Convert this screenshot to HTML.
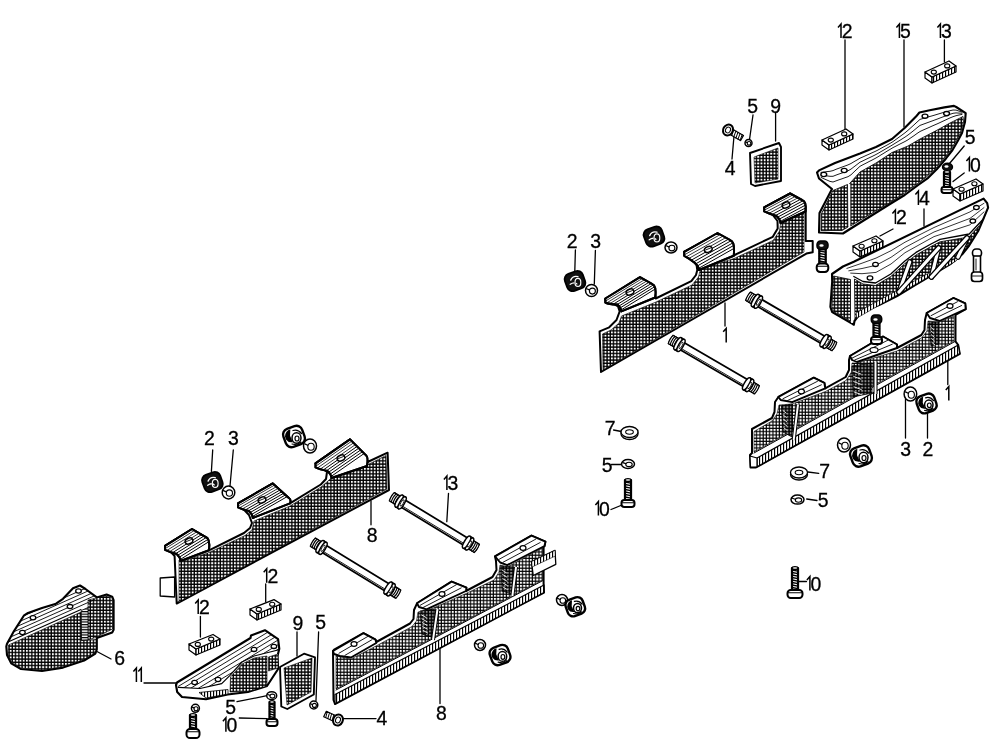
<!DOCTYPE html><html><head><meta charset="utf-8"><style>html,body{margin:0;padding:0;background:#fff;}svg{display:block;filter:grayscale(1);}text{font-family:"Liberation Sans",sans-serif;fill:#000;stroke:#000;stroke-width:0.3px;}</style></head><body>
<svg width="1000" height="749" viewBox="0 0 1000 749">
<defs>
<pattern id="g" width="3.25" height="3.25" patternUnits="userSpaceOnUse"><rect width="3.25" height="3.25" fill="#000"/><rect x="0" y="0" width="1.9" height="1.9" fill="#fff"/></pattern>
<pattern id="v" width="3" height="10" patternUnits="userSpaceOnUse"><rect width="3" height="10" fill="#fff"/><rect x="0" y="0" width="1.15" height="10" fill="#000"/></pattern>
<pattern id="g2" width="3.25" height="3.25" patternUnits="userSpaceOnUse"><rect width="3.25" height="3.25" fill="#000"/><rect x="0" y="0" width="2.1" height="2.1" fill="#fff"/></pattern>
<pattern id="h" width="10" height="2.6" patternUnits="userSpaceOnUse"><rect width="10" height="2.6" fill="#fff"/><rect width="10" height="1.2" fill="#000"/></pattern>
</defs>
<rect width="1000" height="749" fill="#fff"/>
<path d="M841.0,38.0 L841.0,24.0 L838.0,27.4" fill="none" stroke="#000" stroke-width="1.5" stroke-linejoin="miter"/>
<text x="841.7" y="38.0" font-size="19.4">2</text>
<path d="M899.4,38.0 L899.4,24.0 L896.4,27.4" fill="none" stroke="#000" stroke-width="1.5" stroke-linejoin="miter"/>
<text x="900.1" y="38.0" font-size="19.4">5</text>
<path d="M940.4,38.0 L940.4,24.0 L937.4,27.4" fill="none" stroke="#000" stroke-width="1.5" stroke-linejoin="miter"/>
<text x="941.1" y="38.0" font-size="19.4">3</text>
<text x="747.2" y="113.0" font-size="19.4">5</text>
<text x="770.2" y="113.0" font-size="19.4">9</text>
<text x="724.8" y="175.0" font-size="19.4">4</text>
<text x="964.8" y="144.0" font-size="19.4">5</text>
<path d="M969.4,171.5 L969.4,157.5 L966.4,160.9" fill="none" stroke="#000" stroke-width="1.5" stroke-linejoin="miter"/>
<text x="970.1" y="171.5" font-size="19.4">0</text>
<path d="M918.4,205.0 L918.4,191.0 L915.4,194.4" fill="none" stroke="#000" stroke-width="1.5" stroke-linejoin="miter"/>
<text x="919.1" y="205.0" font-size="19.4">4</text>
<path d="M895.4,224.0 L895.4,210.0 L892.4,213.4" fill="none" stroke="#000" stroke-width="1.5" stroke-linejoin="miter"/>
<text x="896.1" y="224.0" font-size="19.4">2</text>
<text x="566.8" y="248.3" font-size="19.4">2</text>
<text x="590.3" y="248.3" font-size="19.4">3</text>
<path d="M726.2,342.4 L726.2,328.4 L723.2,331.8" fill="none" stroke="#000" stroke-width="1.5" stroke-linejoin="miter"/>
<path d="M948.8,400.6 L948.8,386.6 L945.8,390.0" fill="none" stroke="#000" stroke-width="1.5" stroke-linejoin="miter"/>
<text x="900.2" y="456.0" font-size="19.4">3</text>
<text x="922.5" y="456.0" font-size="19.4">2</text>
<text x="604.7" y="434.5" font-size="19.4">7</text>
<text x="601.7" y="472.0" font-size="19.4">5</text>
<path d="M598.4,515.5 L598.4,501.5 L595.4,504.9" fill="none" stroke="#000" stroke-width="1.5" stroke-linejoin="miter"/>
<text x="599.1" y="515.5" font-size="19.4">0</text>
<text x="819.2" y="478.0" font-size="19.4">7</text>
<text x="817.7" y="506.5" font-size="19.4">5</text>
<path d="M809.9,590.5 L809.9,576.5 L806.9,579.9" fill="none" stroke="#000" stroke-width="1.5" stroke-linejoin="miter"/>
<text x="810.6" y="590.5" font-size="19.4">0</text>
<text x="203.9" y="444.7" font-size="19.4">2</text>
<text x="227.9" y="444.7" font-size="19.4">3</text>
<text x="366.8" y="542.0" font-size="19.4">8</text>
<path d="M446.9,490.0 L446.9,476.0 L443.9,479.4" fill="none" stroke="#000" stroke-width="1.5" stroke-linejoin="miter"/>
<text x="447.6" y="490.0" font-size="19.4">3</text>
<path d="M266.7,582.8 L266.7,568.8 L263.7,572.2" fill="none" stroke="#000" stroke-width="1.5" stroke-linejoin="miter"/>
<text x="267.4" y="582.8" font-size="19.4">2</text>
<path d="M198.2,614.0 L198.2,600.0 L195.2,603.4" fill="none" stroke="#000" stroke-width="1.5" stroke-linejoin="miter"/>
<text x="198.9" y="614.0" font-size="19.4">2</text>
<text x="114.2" y="665.0" font-size="19.4">6</text>
<path d="M136.4,682.0 L136.4,668.0 L133.4,671.4" fill="none" stroke="#000" stroke-width="1.5" stroke-linejoin="miter"/>
<path d="M141.3,682.0 L141.3,668.0 L138.3,671.4" fill="none" stroke="#000" stroke-width="1.5" stroke-linejoin="miter"/>
<text x="292.5" y="629.7" font-size="19.4">9</text>
<text x="315.2" y="628.5" font-size="19.4">5</text>
<text x="225.2" y="713.7" font-size="19.4">5</text>
<path d="M225.9,731.8 L225.9,717.8 L222.9,721.2" fill="none" stroke="#000" stroke-width="1.5" stroke-linejoin="miter"/>
<text x="226.6" y="731.8" font-size="19.4">0</text>
<text x="376.6" y="724.6" font-size="19.4">4</text>
<text x="436.0" y="720.0" font-size="19.4">8</text>
<line x1="845" y1="40" x2="845" y2="130" stroke="#000" stroke-width="1.3" stroke-linecap="round"/>
<line x1="904" y1="40" x2="904" y2="127" stroke="#000" stroke-width="1.3" stroke-linecap="round"/>
<line x1="944.4" y1="40" x2="944.4" y2="62" stroke="#000" stroke-width="1.3" stroke-linecap="round"/>
<line x1="753" y1="115" x2="749.6" y2="139" stroke="#000" stroke-width="1.3" stroke-linecap="round"/>
<line x1="775.6" y1="113" x2="775.6" y2="141" stroke="#000" stroke-width="1.3" stroke-linecap="round"/>
<line x1="734" y1="136" x2="732" y2="159" stroke="#000" stroke-width="1.3" stroke-linecap="round"/>
<line x1="924" y1="209" x2="924" y2="226" stroke="#000" stroke-width="1.3" stroke-linecap="round"/>
<line x1="893" y1="229" x2="880" y2="236" stroke="#000" stroke-width="1.3" stroke-linecap="round"/>
<line x1="575.4" y1="250" x2="574.8" y2="271.3" stroke="#000" stroke-width="1.3" stroke-linecap="round"/>
<line x1="595.4" y1="250.4" x2="594.3" y2="284" stroke="#000" stroke-width="1.3" stroke-linecap="round"/>
<line x1="725" y1="303" x2="725" y2="326" stroke="#000" stroke-width="1.3" stroke-linecap="round"/>
<line x1="947.8" y1="360.5" x2="947.8" y2="384.6" stroke="#000" stroke-width="1.3" stroke-linecap="round"/>
<line x1="613.6" y1="430" x2="621.4" y2="431.5" stroke="#000" stroke-width="1.3" stroke-linecap="round"/>
<line x1="611" y1="509.5" x2="622" y2="505" stroke="#000" stroke-width="1.3" stroke-linecap="round"/>
<line x1="212.7" y1="450" x2="211.4" y2="471.4" stroke="#000" stroke-width="1.3" stroke-linecap="round"/>
<line x1="233.3" y1="450" x2="230" y2="486" stroke="#000" stroke-width="1.3" stroke-linecap="round"/>
<line x1="371" y1="500.8" x2="371" y2="524.8" stroke="#000" stroke-width="1.3" stroke-linecap="round"/>
<line x1="448.5" y1="493.4" x2="446.8" y2="521.7" stroke="#000" stroke-width="1.3" stroke-linecap="round"/>
<line x1="265.7" y1="584" x2="265.7" y2="602" stroke="#000" stroke-width="1.3" stroke-linecap="round"/>
<line x1="200.4" y1="616.5" x2="200.4" y2="637" stroke="#000" stroke-width="1.3" stroke-linecap="round"/>
<line x1="96" y1="651" x2="111" y2="659" stroke="#000" stroke-width="1.3" stroke-linecap="round"/>
<line x1="144" y1="683" x2="176" y2="683" stroke="#000" stroke-width="1.3" stroke-linecap="round"/>
<line x1="297" y1="632" x2="297" y2="656" stroke="#000" stroke-width="1.3" stroke-linecap="round"/>
<line x1="318.6" y1="632" x2="316" y2="700.5" stroke="#000" stroke-width="1.3" stroke-linecap="round"/>
<line x1="237" y1="701.7" x2="267" y2="695.7" stroke="#000" stroke-width="1.3" stroke-linecap="round"/>
<line x1="239.3" y1="718" x2="267" y2="718.6" stroke="#000" stroke-width="1.3" stroke-linecap="round"/>
<line x1="342.6" y1="718.6" x2="376" y2="718.6" stroke="#000" stroke-width="1.3" stroke-linecap="round"/>
<line x1="440" y1="648.6" x2="440" y2="703.6" stroke="#000" stroke-width="1.3" stroke-linecap="round"/>
<line x1="964.2" y1="146" x2="949.5" y2="163.5" stroke="#000" stroke-width="1.3" stroke-linecap="round"/>
<line x1="964.2" y1="173" x2="953" y2="181.5" stroke="#000" stroke-width="1.3" stroke-linecap="round"/>
<line x1="808" y1="472" x2="818.7" y2="473.3" stroke="#000" stroke-width="1.3" stroke-linecap="round"/>
<line x1="806.7" y1="499" x2="817" y2="500.5" stroke="#000" stroke-width="1.3" stroke-linecap="round"/>
<line x1="611.5" y1="464.5" x2="621" y2="464.5" stroke="#000" stroke-width="1.3" stroke-linecap="round"/>
<line x1="797" y1="581.5" x2="806.5" y2="581.5" stroke="#000" stroke-width="1.3" stroke-linecap="round"/>
<polygon points="601.0,372.0 599.6,331.3 609.2,327.3 616.5,320.0 619.7,311.3 618.0,306.5 612.0,303.0 605.2,299.3 639.7,277.6 655.0,289.7 655.7,298.5 691.3,281.2 696.0,275.0 697.3,270.0 696.5,264.7 692.0,260.0 684.3,251.6 717.3,234.3 733.0,243.8 733.6,255.5 772.8,236.8 777.7,228.4 777.5,221.0 772.0,214.0 764.2,207.4 790.2,193.5 804.1,203.0 805.7,210.0 805.7,241.0 812.7,241.0 812.7,252.2 806.4,253.6" fill="#fff" stroke="#000" stroke-width="2.0" stroke-linejoin="round" />
<polygon points="603.0,370.0 602.5,334.0 611.0,330.0 619.0,323.0 621.5,316.0 656.0,302.0 692.0,285.0 698.5,277.0 700.5,269.0 734.0,258.5 773.0,240.5 779.5,231.0 780.5,224.0 804.0,213.0 804.0,252.0" fill="url(#g)" stroke="#000" stroke-width="0.6" stroke-linejoin="round" />
<path d="M605.3,298.5 L640,277.2 L652.4,284.2 Q656.7,285.7 655.2,297.5 L621.4,311.4 Q620.9,307.4 617.4,304.4 Q609.3,304.5 605.3,302.5 Z" fill="#fff" stroke="#000" stroke-width="2" stroke-linejoin="round"/>
<clipPath id="c1"><path d="M605.3,298.5 L640,277.2 L652.4,284.2 Q656.7,285.7 655.2,297.5 L621.4,311.4 Q620.9,307.4 617.4,304.4 Q609.3,304.5 605.3,302.5 Z"/></clipPath>
<g clip-path="url(#c1)">
<line x1="598.0" y1="305.7" x2="675.3" y2="258.2" stroke="#000" stroke-width="0.8"/>
<line x1="599.1" y1="307.6" x2="676.5" y2="260.1" stroke="#000" stroke-width="0.8"/>
<line x1="600.3" y1="309.5" x2="677.6" y2="262.0" stroke="#000" stroke-width="0.8"/>
<line x1="601.5" y1="311.4" x2="678.8" y2="264.0" stroke="#000" stroke-width="1.0"/>
<line x1="602.7" y1="313.4" x2="680.0" y2="265.9" stroke="#000" stroke-width="1.0"/>
<line x1="603.9" y1="315.3" x2="681.2" y2="267.8" stroke="#000" stroke-width="1.0"/>
<line x1="605.0" y1="317.2" x2="682.4" y2="269.7" stroke="#000" stroke-width="1.0"/>
<line x1="606.2" y1="319.1" x2="683.5" y2="271.7" stroke="#000" stroke-width="1.0"/>
</g>
<path d="M605.3,298.5 L640,277.2 L652.4,284.2 Q656.7,285.7 655.2,297.5 L621.4,311.4 Q620.9,307.4 617.4,304.4 Q609.3,304.5 605.3,302.5 Z" fill="none" stroke="#000" stroke-width="2" stroke-linejoin="round"/>
<ellipse cx="630" cy="292" rx="4" ry="2.8" fill="#fff" stroke="#000" stroke-width="1.5" transform="rotate(-25 630 292)"/>
<line x1="627.5" y1="292.5" x2="632.5" y2="290.5" stroke="#000" stroke-width="0.9" stroke-linecap="round"/>
<path d="M684.2,251.8 L717.5,233 L730.3,240.2 Q735.2,241.7 733.7,255.8 L699,270 Q698.5,266.0 695.0,263.0 Q688.2,257.8 684.2,255.8 Z" fill="#fff" stroke="#000" stroke-width="2" stroke-linejoin="round"/>
<clipPath id="c2"><path d="M684.2,251.8 L717.5,233 L730.3,240.2 Q735.2,241.7 733.7,255.8 L699,270 Q698.5,266.0 695.0,263.0 Q688.2,257.8 684.2,255.8 Z"/></clipPath>
<g clip-path="url(#c2)">
<line x1="676.8" y1="259.1" x2="753.7" y2="215.7" stroke="#000" stroke-width="0.8"/>
<line x1="678.1" y1="261.4" x2="755.0" y2="218.0" stroke="#000" stroke-width="0.8"/>
<line x1="679.5" y1="263.7" x2="756.3" y2="220.4" stroke="#000" stroke-width="0.8"/>
<line x1="680.8" y1="266.1" x2="757.6" y2="222.7" stroke="#000" stroke-width="1.0"/>
<line x1="682.1" y1="268.4" x2="758.9" y2="225.0" stroke="#000" stroke-width="1.0"/>
<line x1="683.4" y1="270.8" x2="760.3" y2="227.4" stroke="#000" stroke-width="1.0"/>
<line x1="684.7" y1="273.1" x2="761.6" y2="229.7" stroke="#000" stroke-width="1.0"/>
<line x1="686.1" y1="275.4" x2="762.9" y2="232.1" stroke="#000" stroke-width="1.0"/>
</g>
<path d="M684.2,251.8 L717.5,233 L730.3,240.2 Q735.2,241.7 733.7,255.8 L699,270 Q698.5,266.0 695.0,263.0 Q688.2,257.8 684.2,255.8 Z" fill="none" stroke="#000" stroke-width="2" stroke-linejoin="round"/>
<ellipse cx="708.3" cy="249.4" rx="4" ry="2.8" fill="#fff" stroke="#000" stroke-width="1.5" transform="rotate(-25 708.3 249.4)"/>
<line x1="705.8" y1="249.9" x2="710.8" y2="247.9" stroke="#000" stroke-width="0.9" stroke-linecap="round"/>
<path d="M764.2,207.4 L790.2,193.5 L802,200 Q806.9,201.5 805.4,211.5 L780.5,223 Q780.0,219.0 776.5,216.0 Q768.2,213.4 764.2,211.4 Z" fill="#fff" stroke="#000" stroke-width="2" stroke-linejoin="round"/>
<clipPath id="c3"><path d="M764.2,207.4 L790.2,193.5 L802,200 Q806.9,201.5 805.4,211.5 L780.5,223 Q780.0,219.0 776.5,216.0 Q768.2,213.4 764.2,211.4 Z"/></clipPath>
<g clip-path="url(#c3)">
<line x1="756.6" y1="214.3" x2="826.7" y2="176.8" stroke="#000" stroke-width="0.8"/>
<line x1="757.7" y1="216.5" x2="827.8" y2="179.0" stroke="#000" stroke-width="0.8"/>
<line x1="758.9" y1="218.7" x2="829.0" y2="181.2" stroke="#000" stroke-width="0.8"/>
<line x1="760.1" y1="220.9" x2="830.2" y2="183.4" stroke="#000" stroke-width="1.0"/>
<line x1="761.3" y1="223.1" x2="831.4" y2="185.6" stroke="#000" stroke-width="1.0"/>
<line x1="762.4" y1="225.3" x2="832.5" y2="187.8" stroke="#000" stroke-width="1.0"/>
<line x1="763.6" y1="227.5" x2="833.7" y2="190.0" stroke="#000" stroke-width="1.0"/>
<line x1="764.8" y1="229.7" x2="834.9" y2="192.2" stroke="#000" stroke-width="1.0"/>
</g>
<path d="M764.2,207.4 L790.2,193.5 L802,200 Q806.9,201.5 805.4,211.5 L780.5,223 Q780.0,219.0 776.5,216.0 Q768.2,213.4 764.2,211.4 Z" fill="none" stroke="#000" stroke-width="2" stroke-linejoin="round"/>
<ellipse cx="786" cy="205" rx="4" ry="2.8" fill="#fff" stroke="#000" stroke-width="1.5" transform="rotate(-25 786 205)"/>
<line x1="783.5" y1="205.5" x2="788.5" y2="203.5" stroke="#000" stroke-width="0.9" stroke-linecap="round"/>
<polygon points="817.0,172.5 819.0,170.4 835.0,163.0 860.0,153.5 876.0,147.0 892.0,139.0 904.9,127.8 916.0,116.6 919.4,112.5 929.7,110.3 944.4,107.4 954.0,105.9 956.2,107.0 965.7,113.2 965.0,122.0 962.0,133.0 957.6,141.2 952.5,150.0 945.8,158.7 937.0,169.0 928.2,177.8 917.9,185.2 904.7,195.0 890.0,204.0 850.0,229.0 843.0,233.5 819.0,232.5 819.5,213.0 832.0,189.0 819.0,178.5" fill="#fff" stroke="#000" stroke-width="2.12" stroke-linejoin="round" />
<polygon points="849.6,183.5 860.0,172.0 876.0,163.0 892.0,152.5 908.0,146.0 920.0,139.0 937.0,130.2 950.0,123.0 963.0,116.5 963.5,122.0 960.5,133.0 956.0,141.0 951.0,149.5 944.5,158.0 936.0,168.0 927.0,176.5 917.0,184.0 904.0,193.5 890.0,202.5 850.5,226.0" fill="url(#g)" stroke="#000" stroke-width="0.8" stroke-linejoin="round" />
<polygon points="833.0,190.5 847.5,184.5 848.0,227.0 842.0,230.5 821.0,230.5 821.5,213.5" fill="url(#g)" stroke="#000" stroke-width="0.8" stroke-linejoin="round" />
<line x1="849.5" y1="184" x2="849.5" y2="226" stroke="#fff" stroke-width="1.6"/>
<polyline points="821.0,172.4 824.0,172.0 827.0,171.6 830.0,171.3 833.0,170.6 836.0,169.3 839.0,168.2 842.0,167.1 845.0,166.0 848.0,164.9 851.0,163.5 854.0,161.7 857.0,160.0 860.0,158.2 863.0,156.9 866.0,155.5 869.0,154.2 872.0,152.8 875.0,151.5 878.0,150.0 881.0,148.3 884.0,146.7 887.0,145.1 890.0,143.4 893.0,141.6 896.0,139.4 899.0,137.2 902.0,135.0 905.0,132.8 908.0,130.3 911.0,127.6 914.0,124.9 917.0,122.1 920.0,119.4 923.0,118.5 926.0,117.6 929.0,116.7 932.0,115.9 935.0,115.0 938.0,114.1 941.0,113.2 944.0,112.3 947.0,111.5 950.0,110.7 953.0,110.0 956.0,110.1 959.0,111.1 962.0,112.1" fill="none" stroke="#000" stroke-width="0.9" stroke-linejoin="round" stroke-linecap="round"/>
<polyline points="821.0,174.9 824.0,175.4 827.0,175.9 830.0,176.3 833.0,176.3 836.0,175.1 839.0,174.0 842.0,173.0 845.0,171.9 848.0,170.8 851.0,169.1 854.0,166.8 857.0,164.5 860.0,162.2 863.0,160.8 866.0,159.3 869.0,157.9 872.0,156.5 875.0,155.0 878.0,153.4 881.0,151.6 884.0,149.9 887.0,148.1 890.0,146.4 893.0,144.6 896.0,142.7 899.0,140.9 902.0,139.0 905.0,137.1 908.0,135.0 911.0,132.7 914.0,130.3 917.0,127.8 920.0,125.4 923.0,124.3 926.0,123.2 929.0,122.1 932.0,121.0 935.0,119.9 938.0,118.8 941.0,117.6 944.0,116.5 947.0,115.4 950.0,114.3 953.0,113.3 956.0,112.9 959.0,113.1 962.0,113.2" fill="none" stroke="#000" stroke-width="0.9" stroke-linejoin="round" stroke-linecap="round"/>
<polyline points="821.0,177.4 824.0,178.8 827.0,180.1 830.0,181.4 833.0,182.0 836.0,180.9 839.0,179.8 842.0,178.8 845.0,177.7 848.0,176.7 851.0,174.8 854.0,171.9 857.0,169.1 860.0,166.3 863.0,164.7 866.0,163.2 869.0,161.6 872.0,160.1 875.0,158.5 878.0,156.8 881.0,154.9 884.0,153.1 887.0,151.2 890.0,149.4 893.0,147.6 896.0,146.1 899.0,144.5 902.0,143.0 905.0,141.5 908.0,139.8 911.0,137.7 914.0,135.7 917.0,133.5 920.0,131.5 923.0,130.1 926.0,128.8 929.0,127.5 932.0,126.1 935.0,124.8 938.0,123.5 941.0,122.1 944.0,120.7 947.0,119.3 950.0,117.9 953.0,116.7 956.0,115.7 959.0,115.0 962.0,114.4" fill="none" stroke="#000" stroke-width="0.9" stroke-linejoin="round" stroke-linecap="round"/>
<ellipse cx="823.8" cy="174.5" rx="2.9" ry="2.1" fill="#fff" stroke="#000" stroke-width="1.4" transform="rotate(0 823.8 174.5)"/>
<ellipse cx="844.2" cy="170.5" rx="2.9" ry="2.1" fill="#fff" stroke="#000" stroke-width="1.4" transform="rotate(0 844.2 170.5)"/>
<ellipse cx="925" cy="116.2" rx="2.9" ry="2.1" fill="#fff" stroke="#000" stroke-width="1.4" transform="rotate(0 925 116.2)"/>
<ellipse cx="946.6" cy="113.6" rx="2.9" ry="2.1" fill="#fff" stroke="#000" stroke-width="1.4" transform="rotate(0 946.6 113.6)"/>
<polygon points="832.0,274.0 843.0,266.5 853.8,261.7 983.6,198.6 987.2,203.1 988.1,207.6 983.6,218.4 978.2,231.0 969.2,245.5 962.0,254.5 951.2,263.5 933.2,274.3 915.1,285.1 897.1,296.0 879.1,305.0 861.0,312.2 854.5,321.0 853.8,324.8 852.0,323.5 832.2,312.2 830.4,306.8 832.2,281.5" fill="#fff" stroke="#000" stroke-width="2.12" stroke-linejoin="round" />
<polygon points="854.5,279.0 863.0,284.0 875.5,285.5 890.8,276.5 904.9,263.5 916.0,255.0 931.0,246.5 940.0,241.8 969.0,237.0 982.0,222.5 977.5,231.0 968.5,245.0 961.5,254.0 950.5,263.0 932.5,273.5 914.5,284.5 896.5,295.5 878.5,304.5 860.5,311.5 855.0,319.0" fill="url(#g)" stroke="#000" stroke-width="0.8" stroke-linejoin="round" />
<polygon points="833.5,276.0 850.5,279.5 850.5,321.0 833.5,311.5 832.0,306.5" fill="url(#g)" stroke="#000" stroke-width="0.8" stroke-linejoin="round" />
<polyline points="853.8,276.5 863.0,281.5 875.5,283.0 890.8,274.0 904.9,261.0 916.0,252.4 931.0,244.0 940.0,239.3 969.2,234.0 983.6,218.8" fill="none" stroke="#000" stroke-width="1.3" stroke-linejoin="round" stroke-linecap="round"/>
<line x1="852" y1="279" x2="852" y2="323" stroke="#fff" stroke-width="1.8"/>
<polygon points="856.0,313.0 960.0,256.0 956.0,261.0 857.0,318.0" fill="url(#v)" stroke="#000" stroke-width="0.6" stroke-linejoin="round" />
<line x1="909.7" y1="262" x2="899" y2="292" stroke="#000" stroke-width="5.6" stroke-linecap="round"/>
<line x1="909.7" y1="262" x2="899" y2="292" stroke="#fff" stroke-width="3.2" stroke-linecap="round"/>
<line x1="938.6" y1="248" x2="931.4" y2="277" stroke="#000" stroke-width="5.6" stroke-linecap="round"/>
<line x1="938.6" y1="248" x2="931.4" y2="277" stroke="#fff" stroke-width="3.2" stroke-linecap="round"/>
<line x1="967" y1="238" x2="958" y2="257" stroke="#000" stroke-width="5.6" stroke-linecap="round"/>
<line x1="967" y1="238" x2="958" y2="257" stroke="#fff" stroke-width="3.2" stroke-linecap="round"/>
<line x1="899" y1="292" x2="938.6" y2="248" stroke="#000" stroke-width="5.6" stroke-linecap="round"/>
<line x1="899" y1="292" x2="938.6" y2="248" stroke="#fff" stroke-width="3.2" stroke-linecap="round"/>
<line x1="931.4" y1="277" x2="967" y2="238" stroke="#000" stroke-width="5.6" stroke-linecap="round"/>
<line x1="931.4" y1="277" x2="967" y2="238" stroke="#fff" stroke-width="3.2" stroke-linecap="round"/>
<polyline points="846.9,268.4 862.0,263.2 876.0,258.1 891.0,250.7 905.0,242.2 934.0,227.5 970.0,211.9 984.0,203.3" fill="none" stroke="#000" stroke-width="0.8" stroke-linejoin="round" stroke-linecap="round"/>
<polyline points="848.8,270.8 862.0,268.5 876.0,265.3 891.0,257.3 905.0,247.5 934.0,232.0 970.0,218.4 984.0,207.6" fill="none" stroke="#000" stroke-width="0.8" stroke-linejoin="round" stroke-linecap="round"/>
<polyline points="850.7,273.1 862.0,273.7 876.0,272.4 891.0,264.0 905.0,252.7 934.0,236.6 970.0,224.8 984.0,211.9" fill="none" stroke="#000" stroke-width="0.8" stroke-linejoin="round" stroke-linecap="round"/>
<ellipse cx="875.5" cy="264.4" rx="2.8" ry="2.1" fill="#fff" stroke="#000" stroke-width="1.3" transform="rotate(0 875.5 264.4)"/>
<ellipse cx="870" cy="278" rx="2.8" ry="2.1" fill="#fff" stroke="#000" stroke-width="1.3" transform="rotate(0 870 278)"/>
<ellipse cx="976.4" cy="207.6" rx="2.8" ry="2.1" fill="#fff" stroke="#000" stroke-width="1.3" transform="rotate(0 976.4 207.6)"/>
<ellipse cx="972.8" cy="221.1" rx="2.8" ry="2.1" fill="#fff" stroke="#000" stroke-width="1.3" transform="rotate(0 972.8 221.1)"/>
<polygon points="7.0,643.7 14.0,631.1 23.8,615.7 28.0,612.9 42.0,608.0 56.0,603.7 63.0,598.8 73.0,588.3 80.0,585.5 85.5,589.0 96.8,597.4 106.6,594.6 112.2,596.7 113.6,600.2 113.6,629.7 112.2,632.5 96.8,638.1 96.8,649.3 95.4,653.5 84.1,660.5 63.0,667.6 42.0,671.0 21.0,669.0 11.2,663.3 7.0,655.0 6.3,646.5" fill="#fff" stroke="#000" stroke-width="2.12" stroke-linejoin="round" />
<polygon points="8.5,645.0 81.0,612.0 81.5,640.5 96.0,639.5 96.0,649.0 94.5,653.0 84.0,659.5 63.0,666.5 42.0,670.0 21.0,668.0 12.0,662.5 8.0,655.0" fill="url(#g)" stroke="#000" stroke-width="0.6" stroke-linejoin="round" />
<polygon points="88.0,600.0 98.0,597.5 107.0,596.0 112.5,598.5 112.5,629.0 97.0,637.0 88.0,640.0" fill="url(#g)" stroke="#000" stroke-width="0.6" stroke-linejoin="round" />
<polygon points="81.3,610.5 88.0,607.5 88.0,640.0 81.5,640.5" fill="url(#h)" stroke="#000" stroke-width="0.8" stroke-linejoin="round" />
<line x1="8" y1="642" x2="81" y2="609.5" stroke="#000" stroke-width="1.1" stroke-linecap="round"/>
<clipPath id="c4"><polygon points="7.0,643.7 14.0,631.1 23.8,615.7 28.0,612.9 42.0,608.0 56.0,603.7 63.0,598.8 73.0,588.3 80.0,585.5 85.5,589.0 96.8,597.4 88.0,607.5 81.0,609.5 8.0,642.0"/></clipPath>
<g clip-path="url(#c4)">
<line x1="-30.0" y1="655.1" x2="116.1" y2="590.0" stroke="#000" stroke-width="0.9"/>
<line x1="-31.4" y1="651.9" x2="114.7" y2="586.8" stroke="#000" stroke-width="0.9"/>
<line x1="-32.8" y1="648.7" x2="113.3" y2="583.6" stroke="#000" stroke-width="0.9"/>
<line x1="-34.2" y1="645.5" x2="111.8" y2="580.4" stroke="#000" stroke-width="0.9"/>
<line x1="-35.7" y1="642.3" x2="110.4" y2="577.2" stroke="#000" stroke-width="0.9"/>
</g>
<ellipse cx="22.4" cy="632.5" rx="2.8" ry="2.1" fill="#fff" stroke="#000" stroke-width="1.3" transform="rotate(0 22.4 632.5)"/>
<ellipse cx="33" cy="617.8" rx="2.8" ry="2.1" fill="#fff" stroke="#000" stroke-width="1.3" transform="rotate(0 33 617.8)"/>
<ellipse cx="70" cy="606.6" rx="2.8" ry="2.1" fill="#fff" stroke="#000" stroke-width="1.3" transform="rotate(0 70 606.6)"/>
<ellipse cx="78.5" cy="591" rx="2.8" ry="2.1" fill="#fff" stroke="#000" stroke-width="1.3" transform="rotate(0 78.5 591)"/>
<polygon points="177.0,682.5 250.5,638.0 251.0,635.5 264.9,630.2 278.1,639.2 279.3,648.8 277.5,656.0 278.1,669.0 267.0,686.0 248.0,692.0 227.7,694.5 206.0,699.3 182.0,697.0 177.2,692.0 176.0,685.0" fill="#fff" stroke="#000" stroke-width="2.12" stroke-linejoin="round" />
<polygon points="230.5,677.0 242.0,664.0 254.0,658.0 267.0,656.0 267.0,686.0 248.0,691.5 230.0,692.0" fill="url(#g)" stroke="#000" stroke-width="0.6" stroke-linejoin="round" />
<polygon points="268.5,657.0 278.0,654.0 278.0,668.0 268.5,671.0" fill="url(#g)" stroke="#000" stroke-width="0.6" stroke-linejoin="round" />
<polyline points="178.4,687.3 200.0,688.5 221.7,683.7 230.0,675.3 242.0,662.0 254.0,656.0 278.0,650.0" fill="none" stroke="#000" stroke-width="1.2" stroke-linejoin="round" stroke-linecap="round"/>
<polygon points="199.0,692.5 228.0,689.5 228.0,694.0 206.0,698.0" fill="url(#v)" stroke="#000" stroke-width="0.8" stroke-linejoin="round" />
<clipPath id="c5"><polygon points="177.0,682.5 250.5,638.0 251.0,635.5 264.9,630.2 278.1,639.2 279.3,648.8 278.0,650.0 254.0,656.0 242.0,662.0 230.0,675.3 221.7,683.7 200.0,688.5 178.4,687.3"/></clipPath>
<g clip-path="url(#c5)">
<line x1="144.9" y1="706.6" x2="286.8" y2="620.7" stroke="#000" stroke-width="0.9"/>
<line x1="146.9" y1="710.1" x2="288.9" y2="624.1" stroke="#000" stroke-width="0.9"/>
<line x1="149.0" y1="713.5" x2="290.9" y2="627.5" stroke="#000" stroke-width="0.9"/>
<line x1="151.1" y1="716.9" x2="293.0" y2="631.0" stroke="#000" stroke-width="0.9"/>
<line x1="153.1" y1="720.3" x2="295.1" y2="634.4" stroke="#000" stroke-width="0.9"/>
<line x1="155.2" y1="723.7" x2="297.1" y2="637.8" stroke="#000" stroke-width="0.9"/>
</g>
<ellipse cx="194.6" cy="682.5" rx="2.8" ry="2.1" fill="#fff" stroke="#000" stroke-width="1.3" transform="rotate(0 194.6 682.5)"/>
<ellipse cx="218" cy="679.5" rx="2.8" ry="2.1" fill="#fff" stroke="#000" stroke-width="1.3" transform="rotate(0 218 679.5)"/>
<ellipse cx="254" cy="649.4" rx="2.8" ry="2.1" fill="#fff" stroke="#000" stroke-width="1.3" transform="rotate(0 254 649.4)"/>
<ellipse cx="273.9" cy="646.4" rx="2.8" ry="2.1" fill="#fff" stroke="#000" stroke-width="1.3" transform="rotate(0 273.9 646.4)"/>
<polygon points="176.7,603.5 174.6,556.0 170.0,551.0 165.0,545.8 192.0,529.0 205.3,536.8 209.0,550.3 244.0,533.0 250.0,528.0 252.0,523.0 249.0,515.0 238.0,503.4 272.8,483.4 288.8,498.0 290.0,503.4 320.8,484.5 326.0,479.0 327.0,472.0 322.0,467.0 315.5,463.4 350.0,439.4 366.0,455.4 367.6,462.0 387.6,452.7 389.0,490.0" fill="#fff" stroke="#000" stroke-width="2.0" stroke-linejoin="round" />
<polygon points="179.0,602.0 179.0,560.0 181.0,562.0 209.0,552.5 245.0,535.5 252.0,530.0 254.0,521.0 290.0,506.0 321.0,487.0 328.0,481.0 331.0,478.0 367.0,465.0 386.0,455.5 387.0,489.0" fill="url(#g)" stroke="#000" stroke-width="0.6" stroke-linejoin="round" />
<polygon points="160.2,578.0 174.6,577.0 174.6,597.0 160.2,596.0" fill="#fff" stroke="#000" stroke-width="1.3" stroke-linejoin="round" />
<path d="M165,545.8 L192,529 L205.3,536.8 Q210.5,538.3 209,550.3 L180.6,561 Q180.1,557.0 176.6,554.0 Q169.0,551.8 165,549.8 Z" fill="#fff" stroke="#000" stroke-width="2" stroke-linejoin="round"/>
<clipPath id="c6"><path d="M165,545.8 L192,529 L205.3,536.8 Q210.5,538.3 209,550.3 L180.6,561 Q180.1,557.0 176.6,554.0 Q169.0,551.8 165,549.8 Z"/></clipPath>
<g clip-path="url(#c6)">
<line x1="157.8" y1="553.2" x2="227.3" y2="510.0" stroke="#000" stroke-width="0.8"/>
<line x1="159.1" y1="555.3" x2="228.6" y2="512.0" stroke="#000" stroke-width="0.8"/>
<line x1="160.4" y1="557.3" x2="229.9" y2="514.1" stroke="#000" stroke-width="0.8"/>
<line x1="161.7" y1="559.4" x2="231.2" y2="516.2" stroke="#000" stroke-width="1.0"/>
<line x1="163.0" y1="561.5" x2="232.5" y2="518.3" stroke="#000" stroke-width="1.0"/>
<line x1="164.3" y1="563.6" x2="233.8" y2="520.4" stroke="#000" stroke-width="1.0"/>
<line x1="165.6" y1="565.7" x2="235.1" y2="522.5" stroke="#000" stroke-width="1.0"/>
<line x1="166.9" y1="567.8" x2="236.4" y2="524.6" stroke="#000" stroke-width="1.0"/>
</g>
<path d="M165,545.8 L192,529 L205.3,536.8 Q210.5,538.3 209,550.3 L180.6,561 Q180.1,557.0 176.6,554.0 Q169.0,551.8 165,549.8 Z" fill="none" stroke="#000" stroke-width="2" stroke-linejoin="round"/>
<ellipse cx="189" cy="541" rx="4" ry="2.8" fill="#fff" stroke="#000" stroke-width="1.5" transform="rotate(-25 189 541)"/>
<line x1="186.5" y1="541.5" x2="191.5" y2="539.5" stroke="#000" stroke-width="0.9" stroke-linecap="round"/>
<path d="M238,503.4 L272.8,483.4 L288.8,498 Q291.5,499.5 290,503.4 L252.8,518 Q252.3,514.0 248.8,511.0 Q242.0,509.4 238,507.4 Z" fill="#fff" stroke="#000" stroke-width="2" stroke-linejoin="round"/>
<clipPath id="c7"><path d="M238,503.4 L272.8,483.4 L288.8,498 Q291.5,499.5 290,503.4 L252.8,518 Q252.3,514.0 248.8,511.0 Q242.0,509.4 238,507.4 Z"/></clipPath>
<g clip-path="url(#c7)">
<line x1="230.5" y1="510.4" x2="308.6" y2="465.5" stroke="#000" stroke-width="0.8"/>
<line x1="231.7" y1="512.4" x2="309.8" y2="467.5" stroke="#000" stroke-width="0.8"/>
<line x1="232.8" y1="514.4" x2="311.0" y2="469.5" stroke="#000" stroke-width="0.8"/>
<line x1="234.0" y1="516.5" x2="312.1" y2="471.5" stroke="#000" stroke-width="1.0"/>
<line x1="235.1" y1="518.5" x2="313.3" y2="473.6" stroke="#000" stroke-width="1.0"/>
<line x1="236.3" y1="520.5" x2="314.4" y2="475.6" stroke="#000" stroke-width="1.0"/>
<line x1="237.5" y1="522.5" x2="315.6" y2="477.6" stroke="#000" stroke-width="1.0"/>
<line x1="238.6" y1="524.5" x2="316.8" y2="479.6" stroke="#000" stroke-width="1.0"/>
</g>
<path d="M238,503.4 L272.8,483.4 L288.8,498 Q291.5,499.5 290,503.4 L252.8,518 Q252.3,514.0 248.8,511.0 Q242.0,509.4 238,507.4 Z" fill="none" stroke="#000" stroke-width="2" stroke-linejoin="round"/>
<ellipse cx="262" cy="500" rx="4" ry="2.8" fill="#fff" stroke="#000" stroke-width="1.5" transform="rotate(-25 262 500)"/>
<line x1="259.5" y1="500.5" x2="264.5" y2="498.5" stroke="#000" stroke-width="0.9" stroke-linecap="round"/>
<path d="M315.5,463.4 L350,439.4 L366,455.4 Q368.5,456.9 367,466 L331.5,478 Q331.0,474.0 327.5,471.0 Q319.5,469.4 315.5,467.4 Z" fill="#fff" stroke="#000" stroke-width="2" stroke-linejoin="round"/>
<clipPath id="c8"><path d="M315.5,463.4 L350,439.4 L366,455.4 Q368.5,456.9 367,466 L331.5,478 Q331.0,474.0 327.5,471.0 Q319.5,469.4 315.5,467.4 Z"/></clipPath>
<g clip-path="url(#c8)">
<line x1="308.7" y1="471.1" x2="384.2" y2="418.6" stroke="#000" stroke-width="0.8"/>
<line x1="310.1" y1="473.1" x2="385.6" y2="420.6" stroke="#000" stroke-width="0.8"/>
<line x1="311.5" y1="475.2" x2="387.0" y2="422.6" stroke="#000" stroke-width="0.8"/>
<line x1="312.9" y1="477.2" x2="388.4" y2="424.6" stroke="#000" stroke-width="1.0"/>
<line x1="314.3" y1="479.2" x2="389.8" y2="426.6" stroke="#000" stroke-width="1.0"/>
<line x1="315.7" y1="481.2" x2="391.3" y2="428.7" stroke="#000" stroke-width="1.0"/>
<line x1="317.1" y1="483.2" x2="392.7" y2="430.7" stroke="#000" stroke-width="1.0"/>
<line x1="318.5" y1="485.2" x2="394.1" y2="432.7" stroke="#000" stroke-width="1.0"/>
</g>
<path d="M315.5,463.4 L350,439.4 L366,455.4 Q368.5,456.9 367,466 L331.5,478 Q331.0,474.0 327.5,471.0 Q319.5,469.4 315.5,467.4 Z" fill="none" stroke="#000" stroke-width="2" stroke-linejoin="round"/>
<ellipse cx="341" cy="458" rx="4" ry="2.8" fill="#fff" stroke="#000" stroke-width="1.5" transform="rotate(-25 341 458)"/>
<line x1="338.5" y1="458.5" x2="343.5" y2="456.5" stroke="#000" stroke-width="0.9" stroke-linecap="round"/>
<polygon points="333.0,651.0 334.6,649.3 363.4,633.2 375.5,639.7 376.3,642.0 410.0,623.5 413.5,619.0 414.0,610.0 417.0,603.3 451.6,581.6 466.4,587.7 466.0,591.0 492.5,577.0 496.5,570.0 496.0,561.0 495.0,556.4 531.5,535.6 545.4,541.7 544.5,546.0 543.6,547.0 543.6,584.0 544.0,592.5 335.0,704.0 333.5,700.0" fill="#fff" stroke="#000" stroke-width="2.0" stroke-linejoin="round" />
<polygon points="336.0,656.0 351.0,659.0 377.0,645.5 412.0,626.5 416.5,621.0 418.0,612.0 426.5,611.0 466.0,593.5 494.0,580.0 499.0,572.0 500.0,565.0 507.2,567.0 542.5,548.0 542.5,580.0 336.0,689.0" fill="url(#g2)" stroke="#000" stroke-width="0.6" stroke-linejoin="round" />
<polygon points="335.0,694.5 544.0,585.0 544.0,592.5 335.0,703.8" fill="url(#v)" stroke="#000" stroke-width="1.2" stroke-linejoin="round" />
<line x1="336" y1="690" x2="543" y2="580.5" stroke="#000" stroke-width="1.0" stroke-linecap="round"/>
<polygon points="333.0,651.0 363.4,633.2 375.5,639.7 376.3,643.0 351.0,657.5 340.0,656.0 334.0,654.0" fill="#fff" stroke="#000" stroke-width="1.88" stroke-linejoin="round" />
<line x1="339.0" y1="653.2" x2="367.7" y2="636.5" stroke="#000" stroke-width="0.9" stroke-linecap="round"/>
<line x1="345.0" y1="655.3" x2="372.0" y2="639.7" stroke="#000" stroke-width="0.9" stroke-linecap="round"/>
<polygon points="417.0,603.3 451.6,581.6 466.4,587.7 466.0,591.0 426.5,609.4 419.0,607.0" fill="#fff" stroke="#000" stroke-width="1.88" stroke-linejoin="round" />
<line x1="420.2" y1="605.3" x2="456.4" y2="584.7" stroke="#000" stroke-width="0.9" stroke-linecap="round"/>
<line x1="423.3" y1="607.4" x2="461.2" y2="587.9" stroke="#000" stroke-width="0.9" stroke-linecap="round"/>
<polygon points="495.0,556.4 531.5,535.6 545.4,541.7 544.5,546.0 507.2,565.1 500.2,562.5" fill="#fff" stroke="#000" stroke-width="1.88" stroke-linejoin="round" />
<line x1="499.1" y1="559.3" x2="535.8" y2="539.1" stroke="#000" stroke-width="0.9" stroke-linecap="round"/>
<line x1="503.1" y1="562.2" x2="540.2" y2="542.5" stroke="#000" stroke-width="0.9" stroke-linecap="round"/>
<ellipse cx="354" cy="644" rx="3" ry="2.3" fill="#fff" stroke="#000" stroke-width="1.2" transform="rotate(0 354 644)"/>
<ellipse cx="442" cy="594" rx="3" ry="2.3" fill="#fff" stroke="#000" stroke-width="1.2" transform="rotate(0 442 594)"/>
<ellipse cx="523" cy="548" rx="3" ry="2.3" fill="#fff" stroke="#000" stroke-width="1.2" transform="rotate(0 523 548)"/>
<polygon points="420.0,611.0 434.0,609.0 434.0,638.0 422.0,634.0" fill="url(#g)" stroke="#000" stroke-width="0.8" stroke-linejoin="round" />
<polygon points="420.0,611.0 434.0,609.0 434.0,638.0 422.0,634.0" fill="#000" fill-opacity="0.45"/>
<line x1="421.3" y1="614.8" x2="426.6" y2="617.8" stroke="#fff" stroke-width="0.9"/>
<line x1="421.7" y1="618.7" x2="427.0" y2="621.7" stroke="#fff" stroke-width="0.9"/>
<line x1="422.0" y1="622.5" x2="427.3" y2="625.5" stroke="#fff" stroke-width="0.9"/>
<line x1="422.3" y1="626.3" x2="427.6" y2="629.3" stroke="#fff" stroke-width="0.9"/>
<line x1="422.7" y1="630.2" x2="428.0" y2="633.2" stroke="#fff" stroke-width="0.9"/>
<polygon points="501.0,566.0 514.0,567.0 512.0,594.0 502.0,591.0" fill="url(#g)" stroke="#000" stroke-width="0.8" stroke-linejoin="round" />
<polygon points="501.0,566.0 514.0,567.0 512.0,594.0 502.0,591.0" fill="#000" fill-opacity="0.45"/>
<line x1="502.2" y1="570.2" x2="507.0" y2="573.2" stroke="#fff" stroke-width="0.9"/>
<line x1="502.3" y1="574.3" x2="507.2" y2="577.3" stroke="#fff" stroke-width="0.9"/>
<line x1="502.5" y1="578.5" x2="507.4" y2="581.5" stroke="#fff" stroke-width="0.9"/>
<line x1="502.7" y1="582.7" x2="507.5" y2="585.7" stroke="#fff" stroke-width="0.9"/>
<line x1="502.8" y1="586.8" x2="507.7" y2="589.8" stroke="#fff" stroke-width="0.9"/>
<line x1="437.5" y1="609" x2="433" y2="640" stroke="#000" stroke-width="4"/><line x1="437.5" y1="609" x2="433" y2="640" stroke="#fff" stroke-width="2"/>
<line x1="516" y1="567" x2="512.4" y2="596" stroke="#000" stroke-width="4"/><line x1="516" y1="567" x2="512.4" y2="596" stroke="#fff" stroke-width="2"/>
<polygon points="531.5,561.6 555.0,550.4 555.8,564.3 533.2,575.5" fill="#fff" stroke="#000" stroke-width="1.3" stroke-linejoin="round" />
<polygon points="531.5,561.6 555.0,550.4 555.3,556.0 532.0,567.0" fill="url(#v)" stroke="#000" stroke-width="0.6" stroke-linejoin="round" />
<polygon points="752.0,429.0 772.0,418.0 774.5,412.0 775.0,402.0 778.4,397.0 813.7,377.7 824.4,383.0 825.2,388.4 845.7,377.0 849.0,370.0 849.0,360.0 850.0,356.0 883.0,336.5 897.0,344.5 897.0,348.0 921.4,335.0 924.5,330.0 925.0,320.0 926.7,313.0 953.4,298.0 965.2,303.4 965.7,309.2 955.5,315.0 955.5,341.3 958.2,345.0 959.8,354.0 756.0,467.5 750.5,467.5 750.0,455.0 752.0,453.0" fill="#fff" stroke="#000" stroke-width="2.0" stroke-linejoin="round" />
<polygon points="754.0,431.5 772.0,421.0 777.0,414.0 779.0,405.0 792.0,404.0 825.5,391.5 846.0,380.5 851.5,372.0 852.0,363.0 857.0,363.0 897.0,351.0 921.5,338.0 927.0,331.0 928.0,321.0 939.5,322.0 954.0,316.0 954.0,341.0 754.0,452.0" fill="url(#g2)" stroke="#000" stroke-width="0.6" stroke-linejoin="round" />
<polygon points="757.0,458.0 958.2,345.0 959.8,353.5 757.0,466.8" fill="url(#v)" stroke="#000" stroke-width="1.2" stroke-linejoin="round" />
<polygon points="750.0,456.0 757.0,458.0 757.0,466.8 750.5,467.0" fill="#fff" stroke="#000" stroke-width="1.2" stroke-linejoin="round" />
<line x1="754" y1="453" x2="955" y2="341.5" stroke="#000" stroke-width="1.0" stroke-linecap="round"/>
<polygon points="778.4,397.0 813.7,377.7 824.4,383.0 825.2,388.4 792.2,402.2 780.7,400.0" fill="#fff" stroke="#000" stroke-width="1.88" stroke-linejoin="round" />
<line x1="783.0" y1="398.7" x2="817.5" y2="381.3" stroke="#000" stroke-width="0.9" stroke-linecap="round"/>
<line x1="787.6" y1="400.5" x2="821.4" y2="384.8" stroke="#000" stroke-width="0.9" stroke-linecap="round"/>
<polygon points="850.0,356.0 883.0,336.5 897.0,344.5 897.0,348.0 857.0,362.0 852.0,360.0" fill="#fff" stroke="#000" stroke-width="1.88" stroke-linejoin="round" />
<line x1="852.3" y1="358.0" x2="887.7" y2="340.3" stroke="#000" stroke-width="0.9" stroke-linecap="round"/>
<line x1="854.7" y1="360.0" x2="892.3" y2="344.2" stroke="#000" stroke-width="0.9" stroke-linecap="round"/>
<polygon points="926.7,313.0 953.4,298.0 965.2,303.4 965.7,309.2 939.5,321.0 930.0,318.0" fill="#fff" stroke="#000" stroke-width="1.88" stroke-linejoin="round" />
<line x1="931.0" y1="315.7" x2="957.5" y2="301.7" stroke="#000" stroke-width="0.9" stroke-linecap="round"/>
<line x1="935.2" y1="318.3" x2="961.6" y2="305.5" stroke="#000" stroke-width="0.9" stroke-linecap="round"/>
<ellipse cx="801.4" cy="391.5" rx="3" ry="2.3" fill="#fff" stroke="#000" stroke-width="1.2" transform="rotate(0 801.4 391.5)"/>
<ellipse cx="950" cy="306" rx="3" ry="2.3" fill="#fff" stroke="#000" stroke-width="1.2" transform="rotate(0 950 306)"/>
<ellipse cx="874" cy="350" rx="4" ry="2.5" fill="#fff" stroke="#000" stroke-width="1.2" transform="rotate(0 874 350)"/>
<polygon points="781.4,406.0 792.0,404.0 792.0,437.0 783.0,432.0" fill="url(#g)" stroke="#000" stroke-width="0.8" stroke-linejoin="round" />
<polygon points="781.4,406.0 792.0,404.0 792.0,437.0 783.0,432.0" fill="#000" fill-opacity="0.45"/>
<line x1="782.7" y1="410.3" x2="786.4" y2="413.3" stroke="#fff" stroke-width="0.9"/>
<line x1="782.9" y1="414.7" x2="786.7" y2="417.7" stroke="#fff" stroke-width="0.9"/>
<line x1="783.2" y1="419.0" x2="787.0" y2="422.0" stroke="#fff" stroke-width="0.9"/>
<line x1="783.5" y1="423.3" x2="787.2" y2="426.3" stroke="#fff" stroke-width="0.9"/>
<line x1="783.7" y1="427.7" x2="787.5" y2="430.7" stroke="#fff" stroke-width="0.9"/>
<polygon points="852.0,366.0 872.0,363.0 872.0,393.0 853.0,397.0" fill="url(#g)" stroke="#000" stroke-width="0.8" stroke-linejoin="round" />
<polygon points="852.0,366.0 872.0,363.0 872.0,393.0 853.0,397.0" fill="#000" fill-opacity="0.45"/>
<line x1="853.2" y1="371.2" x2="861.2" y2="374.2" stroke="#fff" stroke-width="0.9"/>
<line x1="853.3" y1="376.3" x2="861.3" y2="379.3" stroke="#fff" stroke-width="0.9"/>
<line x1="853.5" y1="381.5" x2="861.5" y2="384.5" stroke="#fff" stroke-width="0.9"/>
<line x1="853.7" y1="386.7" x2="861.7" y2="389.7" stroke="#fff" stroke-width="0.9"/>
<line x1="853.8" y1="391.8" x2="861.8" y2="394.8" stroke="#fff" stroke-width="0.9"/>
<polygon points="929.0,323.0 939.0,322.0 939.0,344.0 931.0,346.0" fill="url(#g)" stroke="#000" stroke-width="0.8" stroke-linejoin="round" />
<polygon points="929.0,323.0 939.0,322.0 939.0,344.0 931.0,346.0" fill="#000" fill-opacity="0.45"/>
<line x1="930.3" y1="326.8" x2="933.8" y2="329.8" stroke="#fff" stroke-width="0.9"/>
<line x1="930.7" y1="330.7" x2="934.2" y2="333.7" stroke="#fff" stroke-width="0.9"/>
<line x1="931.0" y1="334.5" x2="934.5" y2="337.5" stroke="#fff" stroke-width="0.9"/>
<line x1="931.3" y1="338.3" x2="934.8" y2="341.3" stroke="#fff" stroke-width="0.9"/>
<line x1="931.7" y1="342.2" x2="935.2" y2="345.2" stroke="#fff" stroke-width="0.9"/>
<line x1="798" y1="404.5" x2="793.7" y2="440" stroke="#000" stroke-width="4"/><line x1="798" y1="404.5" x2="793.7" y2="440" stroke="#fff" stroke-width="2"/>
<line x1="875.5" y1="362" x2="875.5" y2="394" stroke="#000" stroke-width="4"/><line x1="875.5" y1="362" x2="875.5" y2="394" stroke="#fff" stroke-width="2"/>
<line x1="905.5" y1="438" x2="905.5" y2="399" stroke="#000" stroke-width="1.3" stroke-linecap="round"/>
<line x1="927.5" y1="438" x2="927.5" y2="413" stroke="#000" stroke-width="1.3" stroke-linecap="round"/>
<polygon points="756.3,305.8 822.0,344.1 826.1,337.0 760.4,298.7" fill="#fff" stroke="#000" stroke-width="1.75" stroke-linejoin="round" />
<polyline points="758.0,304.9 821.9,342.2" fill="none" stroke="#000" stroke-width="0.9" stroke-linejoin="round" stroke-linecap="round"/>
<polygon points="745.6,300.3 752.5,304.4 757.3,296.1 750.4,292.1" fill="#fff" stroke="#000" stroke-width="1.3" stroke-linejoin="round" />
<ellipse cx="749.0" cy="296.8" rx="1.7" ry="4.9" fill="#fff" stroke="#000" stroke-width="1.2" transform="rotate(30.3 749.0 296.8)"/>
<ellipse cx="750.9" cy="297.9" rx="1.7" ry="4.9" fill="#fff" stroke="#000" stroke-width="1.2" transform="rotate(30.3 750.9 297.9)"/>
<ellipse cx="752.7" cy="298.9" rx="1.7" ry="4.9" fill="#fff" stroke="#000" stroke-width="1.2" transform="rotate(30.3 752.7 298.9)"/>
<ellipse cx="754.5" cy="300.0" rx="1.7" ry="4.9" fill="#fff" stroke="#000" stroke-width="1.2" transform="rotate(30.3 754.5 300.0)"/>
<polygon points="751.9,306.4 754.9,308.2 761.8,296.3 758.8,294.5" fill="#fff" stroke="#000" stroke-width="1.3" stroke-linejoin="round" />
<ellipse cx="755.3" cy="300.5" rx="2.3" ry="6.9" fill="#fff" stroke="#000" stroke-width="1.5" transform="rotate(30.3 755.3 300.5)"/>
<ellipse cx="758.4" cy="302.2" rx="2.3" ry="6.9" fill="#fff" stroke="#000" stroke-width="1.5" transform="rotate(30.3 758.4 302.2)"/>
<ellipse cx="758.4" cy="302.2" rx="1.2" ry="3.6" fill="#fff" stroke="#000" stroke-width="0.8" transform="rotate(30.3 758.4 302.2)"/>
<polygon points="832.0,350.7 825.1,346.7 829.9,338.4 836.8,342.5" fill="#fff" stroke="#000" stroke-width="1.3" stroke-linejoin="round" />
<ellipse cx="833.4" cy="346.0" rx="1.7" ry="4.9" fill="#fff" stroke="#000" stroke-width="1.2" transform="rotate(30.3 833.4 346.0)"/>
<ellipse cx="831.5" cy="344.9" rx="1.7" ry="4.9" fill="#fff" stroke="#000" stroke-width="1.2" transform="rotate(30.3 831.5 344.9)"/>
<ellipse cx="829.7" cy="343.9" rx="1.7" ry="4.9" fill="#fff" stroke="#000" stroke-width="1.2" transform="rotate(30.3 829.7 343.9)"/>
<ellipse cx="827.9" cy="342.8" rx="1.7" ry="4.9" fill="#fff" stroke="#000" stroke-width="1.2" transform="rotate(30.3 827.9 342.8)"/>
<polygon points="823.6,348.3 820.6,346.5 827.5,334.6 830.5,336.4" fill="#fff" stroke="#000" stroke-width="1.3" stroke-linejoin="round" />
<ellipse cx="827.1" cy="342.3" rx="2.3" ry="6.9" fill="#fff" stroke="#000" stroke-width="1.5" transform="rotate(30.3 827.1 342.3)"/>
<ellipse cx="824.0" cy="340.6" rx="2.3" ry="6.9" fill="#fff" stroke="#000" stroke-width="1.5" transform="rotate(30.3 824.0 340.6)"/>
<ellipse cx="827.1" cy="342.3" rx="1.2" ry="3.6" fill="#fff" stroke="#000" stroke-width="0.8" transform="rotate(30.3 827.1 342.3)"/>
<polygon points="678.9,349.0 744.6,387.3 748.7,380.2 683.0,341.9" fill="#fff" stroke="#000" stroke-width="1.75" stroke-linejoin="round" />
<polyline points="680.6,348.1 744.5,385.4" fill="none" stroke="#000" stroke-width="0.9" stroke-linejoin="round" stroke-linecap="round"/>
<polygon points="668.2,343.5 675.1,347.6 679.9,339.3 673.0,335.3" fill="#fff" stroke="#000" stroke-width="1.3" stroke-linejoin="round" />
<ellipse cx="671.6" cy="340.0" rx="1.7" ry="4.9" fill="#fff" stroke="#000" stroke-width="1.2" transform="rotate(30.3 671.6 340.0)"/>
<ellipse cx="673.5" cy="341.1" rx="1.7" ry="4.9" fill="#fff" stroke="#000" stroke-width="1.2" transform="rotate(30.3 673.5 341.1)"/>
<ellipse cx="675.3" cy="342.1" rx="1.7" ry="4.9" fill="#fff" stroke="#000" stroke-width="1.2" transform="rotate(30.3 675.3 342.1)"/>
<ellipse cx="677.1" cy="343.2" rx="1.7" ry="4.9" fill="#fff" stroke="#000" stroke-width="1.2" transform="rotate(30.3 677.1 343.2)"/>
<polygon points="674.5,349.6 677.5,351.4 684.4,339.5 681.4,337.7" fill="#fff" stroke="#000" stroke-width="1.3" stroke-linejoin="round" />
<ellipse cx="677.9" cy="343.7" rx="2.3" ry="6.9" fill="#fff" stroke="#000" stroke-width="1.5" transform="rotate(30.3 677.9 343.7)"/>
<ellipse cx="681.0" cy="345.4" rx="2.3" ry="6.9" fill="#fff" stroke="#000" stroke-width="1.5" transform="rotate(30.3 681.0 345.4)"/>
<ellipse cx="681.0" cy="345.4" rx="1.2" ry="3.6" fill="#fff" stroke="#000" stroke-width="0.8" transform="rotate(30.3 681.0 345.4)"/>
<polygon points="754.6,393.9 747.7,389.9 752.5,381.6 759.4,385.7" fill="#fff" stroke="#000" stroke-width="1.3" stroke-linejoin="round" />
<ellipse cx="756.0" cy="389.2" rx="1.7" ry="4.9" fill="#fff" stroke="#000" stroke-width="1.2" transform="rotate(30.3 756.0 389.2)"/>
<ellipse cx="754.1" cy="388.1" rx="1.7" ry="4.9" fill="#fff" stroke="#000" stroke-width="1.2" transform="rotate(30.3 754.1 388.1)"/>
<ellipse cx="752.3" cy="387.1" rx="1.7" ry="4.9" fill="#fff" stroke="#000" stroke-width="1.2" transform="rotate(30.3 752.3 387.1)"/>
<ellipse cx="750.5" cy="386.0" rx="1.7" ry="4.9" fill="#fff" stroke="#000" stroke-width="1.2" transform="rotate(30.3 750.5 386.0)"/>
<polygon points="746.2,391.5 743.2,389.7 750.1,377.8 753.1,379.6" fill="#fff" stroke="#000" stroke-width="1.3" stroke-linejoin="round" />
<ellipse cx="749.7" cy="385.5" rx="2.3" ry="6.9" fill="#fff" stroke="#000" stroke-width="1.5" transform="rotate(30.3 749.7 385.5)"/>
<ellipse cx="746.6" cy="383.8" rx="2.3" ry="6.9" fill="#fff" stroke="#000" stroke-width="1.5" transform="rotate(30.3 746.6 383.8)"/>
<ellipse cx="749.7" cy="385.5" rx="1.2" ry="3.6" fill="#fff" stroke="#000" stroke-width="0.8" transform="rotate(30.3 749.7 385.5)"/>
<polygon points="399.9,506.4 464.5,545.7 468.8,538.7 404.2,499.4" fill="#fff" stroke="#000" stroke-width="1.75" stroke-linejoin="round" />
<polyline points="401.6,505.6 464.5,543.8" fill="none" stroke="#000" stroke-width="0.9" stroke-linejoin="round" stroke-linecap="round"/>
<polygon points="389.3,500.8 396.1,505.0 401.1,496.8 394.3,492.6" fill="#fff" stroke="#000" stroke-width="1.3" stroke-linejoin="round" />
<ellipse cx="392.8" cy="497.3" rx="1.7" ry="4.9" fill="#fff" stroke="#000" stroke-width="1.2" transform="rotate(31.3 392.8 497.3)"/>
<ellipse cx="394.6" cy="498.4" rx="1.7" ry="4.9" fill="#fff" stroke="#000" stroke-width="1.2" transform="rotate(31.3 394.6 498.4)"/>
<ellipse cx="396.4" cy="499.5" rx="1.7" ry="4.9" fill="#fff" stroke="#000" stroke-width="1.2" transform="rotate(31.3 396.4 499.5)"/>
<ellipse cx="398.2" cy="500.6" rx="1.7" ry="4.9" fill="#fff" stroke="#000" stroke-width="1.2" transform="rotate(31.3 398.2 500.6)"/>
<polygon points="395.5,507.0 398.5,508.8 405.6,497.0 402.6,495.2" fill="#fff" stroke="#000" stroke-width="1.3" stroke-linejoin="round" />
<ellipse cx="399.1" cy="501.1" rx="2.3" ry="6.9" fill="#fff" stroke="#000" stroke-width="1.5" transform="rotate(31.3 399.1 501.1)"/>
<ellipse cx="402.1" cy="502.9" rx="2.3" ry="6.9" fill="#fff" stroke="#000" stroke-width="1.5" transform="rotate(31.3 402.1 502.9)"/>
<ellipse cx="402.1" cy="502.9" rx="1.2" ry="3.6" fill="#fff" stroke="#000" stroke-width="0.8" transform="rotate(31.3 402.1 502.9)"/>
<polygon points="474.4,552.5 467.6,548.3 472.6,540.1 479.4,544.3" fill="#fff" stroke="#000" stroke-width="1.3" stroke-linejoin="round" />
<ellipse cx="475.9" cy="547.8" rx="1.7" ry="4.9" fill="#fff" stroke="#000" stroke-width="1.2" transform="rotate(31.3 475.9 547.8)"/>
<ellipse cx="474.1" cy="546.7" rx="1.7" ry="4.9" fill="#fff" stroke="#000" stroke-width="1.2" transform="rotate(31.3 474.1 546.7)"/>
<ellipse cx="472.3" cy="545.6" rx="1.7" ry="4.9" fill="#fff" stroke="#000" stroke-width="1.2" transform="rotate(31.3 472.3 545.6)"/>
<ellipse cx="470.5" cy="544.5" rx="1.7" ry="4.9" fill="#fff" stroke="#000" stroke-width="1.2" transform="rotate(31.3 470.5 544.5)"/>
<polygon points="466.1,549.9 463.1,548.1 470.2,536.3 473.2,538.1" fill="#fff" stroke="#000" stroke-width="1.3" stroke-linejoin="round" />
<ellipse cx="469.6" cy="544.0" rx="2.3" ry="6.9" fill="#fff" stroke="#000" stroke-width="1.5" transform="rotate(31.3 469.6 544.0)"/>
<ellipse cx="466.6" cy="542.2" rx="2.3" ry="6.9" fill="#fff" stroke="#000" stroke-width="1.5" transform="rotate(31.3 466.6 542.2)"/>
<ellipse cx="469.6" cy="544.0" rx="1.2" ry="3.6" fill="#fff" stroke="#000" stroke-width="0.8" transform="rotate(31.3 469.6 544.0)"/>
<polygon points="320.9,551.8 385.9,591.5 390.2,584.5 325.2,544.8" fill="#fff" stroke="#000" stroke-width="1.75" stroke-linejoin="round" />
<polyline points="322.6,551.0 385.9,589.6" fill="none" stroke="#000" stroke-width="0.9" stroke-linejoin="round" stroke-linecap="round"/>
<polygon points="310.3,546.2 317.1,550.4 322.1,542.2 315.3,538.0" fill="#fff" stroke="#000" stroke-width="1.3" stroke-linejoin="round" />
<ellipse cx="313.8" cy="542.7" rx="1.7" ry="4.9" fill="#fff" stroke="#000" stroke-width="1.2" transform="rotate(31.4 313.8 542.7)"/>
<ellipse cx="315.6" cy="543.8" rx="1.7" ry="4.9" fill="#fff" stroke="#000" stroke-width="1.2" transform="rotate(31.4 315.6 543.8)"/>
<ellipse cx="317.4" cy="544.9" rx="1.7" ry="4.9" fill="#fff" stroke="#000" stroke-width="1.2" transform="rotate(31.4 317.4 544.9)"/>
<ellipse cx="319.2" cy="546.0" rx="1.7" ry="4.9" fill="#fff" stroke="#000" stroke-width="1.2" transform="rotate(31.4 319.2 546.0)"/>
<polygon points="316.5,552.4 319.5,554.2 326.6,542.5 323.6,540.6" fill="#fff" stroke="#000" stroke-width="1.3" stroke-linejoin="round" />
<ellipse cx="320.1" cy="546.5" rx="2.3" ry="6.9" fill="#fff" stroke="#000" stroke-width="1.5" transform="rotate(31.4 320.1 546.5)"/>
<ellipse cx="323.0" cy="548.3" rx="2.3" ry="6.9" fill="#fff" stroke="#000" stroke-width="1.5" transform="rotate(31.4 323.0 548.3)"/>
<ellipse cx="323.0" cy="548.3" rx="1.2" ry="3.6" fill="#fff" stroke="#000" stroke-width="0.8" transform="rotate(31.4 323.0 548.3)"/>
<polygon points="395.8,598.3 389.0,594.1 394.0,585.9 400.8,590.1" fill="#fff" stroke="#000" stroke-width="1.3" stroke-linejoin="round" />
<ellipse cx="397.3" cy="593.6" rx="1.7" ry="4.9" fill="#fff" stroke="#000" stroke-width="1.2" transform="rotate(31.4 397.3 593.6)"/>
<ellipse cx="395.5" cy="592.5" rx="1.7" ry="4.9" fill="#fff" stroke="#000" stroke-width="1.2" transform="rotate(31.4 395.5 592.5)"/>
<ellipse cx="393.7" cy="591.4" rx="1.7" ry="4.9" fill="#fff" stroke="#000" stroke-width="1.2" transform="rotate(31.4 393.7 591.4)"/>
<ellipse cx="391.9" cy="590.3" rx="1.7" ry="4.9" fill="#fff" stroke="#000" stroke-width="1.2" transform="rotate(31.4 391.9 590.3)"/>
<polygon points="387.5,595.7 384.5,593.8 391.6,582.1 394.6,583.9" fill="#fff" stroke="#000" stroke-width="1.3" stroke-linejoin="round" />
<ellipse cx="391.0" cy="589.8" rx="2.3" ry="6.9" fill="#fff" stroke="#000" stroke-width="1.5" transform="rotate(31.4 391.0 589.8)"/>
<ellipse cx="388.1" cy="588.0" rx="2.3" ry="6.9" fill="#fff" stroke="#000" stroke-width="1.5" transform="rotate(31.4 388.1 588.0)"/>
<ellipse cx="391.0" cy="589.8" rx="1.2" ry="3.6" fill="#fff" stroke="#000" stroke-width="0.8" transform="rotate(31.4 391.0 589.8)"/>
<polygon points="750.0,153.0 779.0,143.0 781.0,147.0 781.0,181.0 755.0,186.0 751.0,184.0" fill="#fff" stroke="#000" stroke-width="1.88" stroke-linejoin="round" />
<polygon points="754.0,157.0 778.0,148.0 778.0,179.0 755.0,183.0" fill="url(#g)" stroke="#000" stroke-width="0.6" stroke-linejoin="round" />
<polygon points="280.0,667.0 304.0,653.7 315.0,657.3 313.8,694.5 287.3,709.0 281.3,706.5" fill="#fff" stroke="#000" stroke-width="1.88" stroke-linejoin="round" />
<polygon points="284.0,668.0 312.0,658.0 311.0,692.0 287.0,705.0" fill="url(#g)" stroke="#000" stroke-width="0.6" stroke-linejoin="round" />
<polygon points="822.0,140.0 829.0,145.0 829.0,150.0 822.0,145.0" fill="#fff" stroke="#000" stroke-width="1.2" stroke-linejoin="round" />
<polygon points="829.0,145.0 853.0,134.0 853.0,139.0 829.0,150.0" fill="url(#v)" stroke="#000" stroke-width="1.2" stroke-linejoin="round" />
<polygon points="822.0,140.0 846.0,129.0 853.0,134.0 829.0,145.0" fill="#fff" stroke="#000" stroke-width="1.3" stroke-linejoin="round" />
<ellipse cx="830.8" cy="140.1" rx="2.6" ry="2.0" fill="#fff" stroke="#000" stroke-width="1.1" transform="rotate(0 830.8 140.1)"/>
<ellipse cx="844.2" cy="133.9" rx="2.6" ry="2.0" fill="#fff" stroke="#000" stroke-width="1.1" transform="rotate(0 844.2 133.9)"/>
<polygon points="925.0,72.0 932.0,77.0 932.0,83.0 925.0,78.0" fill="#fff" stroke="#000" stroke-width="1.2" stroke-linejoin="round" />
<polygon points="932.0,77.0 956.0,66.0 956.0,72.0 932.0,83.0" fill="url(#v)" stroke="#000" stroke-width="1.2" stroke-linejoin="round" />
<polygon points="925.0,72.0 949.0,61.0 956.0,66.0 932.0,77.0" fill="#fff" stroke="#000" stroke-width="1.3" stroke-linejoin="round" />
<ellipse cx="933.8" cy="72.1" rx="2.6" ry="2.0" fill="#fff" stroke="#000" stroke-width="1.1" transform="rotate(0 933.8 72.1)"/>
<ellipse cx="947.2" cy="65.9" rx="2.6" ry="2.0" fill="#fff" stroke="#000" stroke-width="1.1" transform="rotate(0 947.2 65.9)"/>
<polygon points="953.0,189.0 960.0,194.0 960.0,201.0 953.0,196.0" fill="#fff" stroke="#000" stroke-width="1.2" stroke-linejoin="round" />
<polygon points="960.0,194.0 983.0,184.0 983.0,191.0 960.0,201.0" fill="url(#v)" stroke="#000" stroke-width="1.2" stroke-linejoin="round" />
<polygon points="953.0,189.0 976.0,179.0 983.0,184.0 960.0,194.0" fill="#fff" stroke="#000" stroke-width="1.3" stroke-linejoin="round" />
<ellipse cx="961.6" cy="189.3" rx="2.6" ry="2.0" fill="#fff" stroke="#000" stroke-width="1.1" transform="rotate(0 961.6 189.3)"/>
<ellipse cx="974.4" cy="183.7" rx="2.6" ry="2.0" fill="#fff" stroke="#000" stroke-width="1.1" transform="rotate(0 974.4 183.7)"/>
<polygon points="853.0,246.0 860.0,251.0 860.0,257.0 853.0,252.0" fill="#fff" stroke="#000" stroke-width="1.2" stroke-linejoin="round" />
<polygon points="860.0,251.0 883.0,241.0 883.0,247.0 860.0,257.0" fill="url(#v)" stroke="#000" stroke-width="1.2" stroke-linejoin="round" />
<polygon points="853.0,246.0 876.0,236.0 883.0,241.0 860.0,251.0" fill="#fff" stroke="#000" stroke-width="1.3" stroke-linejoin="round" />
<ellipse cx="861.6" cy="246.3" rx="2.6" ry="2.0" fill="#fff" stroke="#000" stroke-width="1.1" transform="rotate(0 861.6 246.3)"/>
<ellipse cx="874.4" cy="240.7" rx="2.6" ry="2.0" fill="#fff" stroke="#000" stroke-width="1.1" transform="rotate(0 874.4 240.7)"/>
<polygon points="250.0,609.0 257.0,614.0 257.0,620.0 250.0,615.0" fill="#fff" stroke="#000" stroke-width="1.2" stroke-linejoin="round" />
<polygon points="257.0,614.0 281.0,604.0 281.0,610.0 257.0,620.0" fill="url(#v)" stroke="#000" stroke-width="1.2" stroke-linejoin="round" />
<polygon points="250.0,609.0 274.0,599.6 281.0,604.0 257.0,614.0" fill="#fff" stroke="#000" stroke-width="1.3" stroke-linejoin="round" />
<ellipse cx="258.8" cy="609.4" rx="2.6" ry="2.0" fill="#fff" stroke="#000" stroke-width="1.1" transform="rotate(0 258.8 609.4)"/>
<ellipse cx="272.2" cy="604.2" rx="2.6" ry="2.0" fill="#fff" stroke="#000" stroke-width="1.1" transform="rotate(0 272.2 604.2)"/>
<polygon points="189.0,644.0 196.0,649.0 196.0,655.0 189.0,650.0" fill="#fff" stroke="#000" stroke-width="1.2" stroke-linejoin="round" />
<polygon points="196.0,649.0 220.0,639.0 220.0,645.0 196.0,655.0" fill="url(#v)" stroke="#000" stroke-width="1.2" stroke-linejoin="round" />
<polygon points="189.0,644.0 213.0,634.5 220.0,639.0 196.0,649.0" fill="#fff" stroke="#000" stroke-width="1.3" stroke-linejoin="round" />
<ellipse cx="197.8" cy="644.4" rx="2.6" ry="2.0" fill="#fff" stroke="#000" stroke-width="1.1" transform="rotate(0 197.8 644.4)"/>
<ellipse cx="211.2" cy="639.1" rx="2.6" ry="2.0" fill="#fff" stroke="#000" stroke-width="1.1" transform="rotate(0 211.2 639.1)"/>
<g transform="rotate(-20 575 281)">
<rect x="565.5" y="272.0" width="19.0" height="18.1" rx="5.7" fill="#111" stroke="#000" stroke-width="1.8"/>
</g>
<path d="M570.7,280.1 Q573.1,275.3 577.9,276.7" fill="none" stroke="#fff" stroke-width="1.4" stroke-linejoin="round" stroke-linecap="round"/>
<path d="M570.2,284.3 Q574.0,281.5 576.9,283.9" fill="none" stroke="#fff" stroke-width="1.3" stroke-linejoin="round" stroke-linecap="round"/>
<ellipse cx="577.9" cy="282.4" rx="2.9" ry="4.0" fill="none" stroke="#000" stroke-width="1.3" transform="rotate(0 577.9 282.4)"/>
<ellipse cx="577.9" cy="282.4" rx="2.9" ry="4.0" fill="none" stroke="#fff" stroke-width="1.2"/>
<ellipse cx="591.5" cy="290.5" rx="6" ry="6" fill="#fff" stroke="#000" stroke-width="1.5" transform="rotate(0 591.5 290.5)"/>
<ellipse cx="592.4" cy="291.1" rx="3.0" ry="3.0" fill="#fff" stroke="#000" stroke-width="1.1" transform="rotate(0 592.4 291.1)"/>
<path d="M586.7,288.7 L589.4,289.9" fill="none" stroke="#000" stroke-width="1.2" stroke-linejoin="round" stroke-linecap="round"/>
<g transform="rotate(-20 654 236.5)">
<rect x="644.5" y="227.5" width="19.0" height="18.1" rx="5.7" fill="#111" stroke="#000" stroke-width="1.8"/>
</g>
<path d="M649.7,235.6 Q652.1,230.8 656.9,232.2" fill="none" stroke="#fff" stroke-width="1.4" stroke-linejoin="round" stroke-linecap="round"/>
<path d="M649.2,239.8 Q653.0,237.0 655.9,239.3" fill="none" stroke="#fff" stroke-width="1.3" stroke-linejoin="round" stroke-linecap="round"/>
<ellipse cx="656.9" cy="237.9" rx="2.9" ry="4.0" fill="none" stroke="#000" stroke-width="1.3" transform="rotate(0 656.9 237.9)"/>
<ellipse cx="656.9" cy="237.9" rx="2.9" ry="4.0" fill="none" stroke="#fff" stroke-width="1.2"/>
<ellipse cx="671" cy="247.5" rx="6" ry="5.5" fill="#fff" stroke="#000" stroke-width="1.5" transform="rotate(0 671 247.5)"/>
<ellipse cx="671.9" cy="248.1" rx="3.0" ry="2.8" fill="#fff" stroke="#000" stroke-width="1.1" transform="rotate(0 671.9 248.1)"/>
<path d="M666.2,245.8 L668.9,246.9" fill="none" stroke="#000" stroke-width="1.2" stroke-linejoin="round" stroke-linecap="round"/>
<ellipse cx="910.4" cy="394" rx="6.3" ry="7" fill="#fff" stroke="#000" stroke-width="1.5" transform="rotate(0 910.4 394)"/>
<ellipse cx="911.3" cy="394.7" rx="3.1" ry="3.5" fill="#fff" stroke="#000" stroke-width="1.1" transform="rotate(0 911.3 394.7)"/>
<path d="M905.4,391.9 L908.2,393.3" fill="none" stroke="#000" stroke-width="1.2" stroke-linejoin="round" stroke-linecap="round"/>
<g transform="rotate(-20 926.5 403.4)">
<rect x="917.2" y="394.6" width="18.6" height="17.7" rx="5.6" fill="#fff" stroke="#000" stroke-width="2.4"/>
<path d="M918.6,400.6 Q920.9,395.5 925.6,396.0 L923.2,401.5 L923.7,408.0 Q919.5,407.1 918.6,403.4 Z" fill="#000"/>
</g>
<ellipse cx="928.8" cy="404.8" rx="4.2" ry="4.8" fill="#fff" stroke="#000" stroke-width="1.5" transform="rotate(0 928.8 404.8)"/>
<ellipse cx="929.3" cy="405.3" rx="1.9" ry="2.3" fill="#fff" stroke="#000" stroke-width="1.2" transform="rotate(0 929.3 405.3)"/>
<path d="M925.6,397.8 Q930.2,396.4 933.5,400.6" fill="none" stroke="#000" stroke-width="1.3" stroke-linejoin="round" stroke-linecap="round"/>
<path d="M924.6,410.4 Q929.3,411.8 933.0,408.5" fill="none" stroke="#000" stroke-width="1.1" stroke-linejoin="round" stroke-linecap="round"/>
<ellipse cx="844" cy="445" rx="6.5" ry="7" fill="#fff" stroke="#000" stroke-width="1.5" transform="rotate(0 844 445)"/>
<ellipse cx="845.0" cy="445.7" rx="3.2" ry="3.5" fill="#fff" stroke="#000" stroke-width="1.1" transform="rotate(0 845.0 445.7)"/>
<path d="M838.8,442.9 L841.7,444.3" fill="none" stroke="#000" stroke-width="1.2" stroke-linejoin="round" stroke-linecap="round"/>
<g transform="rotate(-20 861 456)">
<rect x="851.0" y="446.5" width="20.0" height="19.0" rx="6.0" fill="#fff" stroke="#000" stroke-width="2.4"/>
<path d="M852.5,453.0 Q855.0,447.5 860.0,448.0 L857.5,454.0 L858.0,461.0 Q853.5,460.0 852.5,456.0 Z" fill="#000"/>
</g>
<ellipse cx="863.5" cy="457.5" rx="4.5" ry="5.2" fill="#fff" stroke="#000" stroke-width="1.5" transform="rotate(0 863.5 457.5)"/>
<ellipse cx="864.0" cy="458.0" rx="2.0" ry="2.5" fill="#fff" stroke="#000" stroke-width="1.2" transform="rotate(0 864.0 458.0)"/>
<path d="M860.0,450.0 Q865.0,448.5 868.5,453.0" fill="none" stroke="#000" stroke-width="1.3" stroke-linejoin="round" stroke-linecap="round"/>
<path d="M859.0,463.5 Q864.0,465.0 868.0,461.5" fill="none" stroke="#000" stroke-width="1.1" stroke-linejoin="round" stroke-linecap="round"/>
<g transform="rotate(-20 212.4 482)">
<rect x="202.9" y="473.0" width="19.0" height="18.1" rx="5.7" fill="#111" stroke="#000" stroke-width="1.8"/>
</g>
<path d="M208.1,481.1 Q210.5,476.3 215.2,477.7" fill="none" stroke="#fff" stroke-width="1.4" stroke-linejoin="round" stroke-linecap="round"/>
<path d="M207.7,485.3 Q211.5,482.5 214.3,484.9" fill="none" stroke="#fff" stroke-width="1.3" stroke-linejoin="round" stroke-linecap="round"/>
<ellipse cx="215.2" cy="483.4" rx="2.9" ry="4.0" fill="none" stroke="#000" stroke-width="1.3" transform="rotate(0 215.2 483.4)"/>
<ellipse cx="215.2" cy="483.4" rx="2.9" ry="4.0" fill="none" stroke="#fff" stroke-width="1.2"/>
<ellipse cx="228.5" cy="492.5" rx="6.3" ry="6.5" fill="#fff" stroke="#000" stroke-width="1.5" transform="rotate(0 228.5 492.5)"/>
<ellipse cx="229.4" cy="493.1" rx="3.1" ry="3.2" fill="#fff" stroke="#000" stroke-width="1.1" transform="rotate(0 229.4 493.1)"/>
<path d="M223.5,490.6 L226.3,491.9" fill="none" stroke="#000" stroke-width="1.2" stroke-linejoin="round" stroke-linecap="round"/>
<g transform="rotate(-20 294 436.5)">
<rect x="284.0" y="427.0" width="20.0" height="19.0" rx="6.0" fill="#fff" stroke="#000" stroke-width="2.4"/>
<path d="M285.5,433.5 Q288.0,428.0 293.0,428.5 L290.5,434.5 L291.0,441.5 Q286.5,440.5 285.5,436.5 Z" fill="#000"/>
</g>
<ellipse cx="296.5" cy="438.0" rx="4.5" ry="5.2" fill="#fff" stroke="#000" stroke-width="1.5" transform="rotate(0 296.5 438.0)"/>
<ellipse cx="297.0" cy="438.5" rx="2.0" ry="2.5" fill="#fff" stroke="#000" stroke-width="1.2" transform="rotate(0 297.0 438.5)"/>
<path d="M293.0,430.5 Q298.0,429.0 301.5,433.5" fill="none" stroke="#000" stroke-width="1.3" stroke-linejoin="round" stroke-linecap="round"/>
<path d="M292.0,444.0 Q297.0,445.5 301.0,442.0" fill="none" stroke="#000" stroke-width="1.1" stroke-linejoin="round" stroke-linecap="round"/>
<ellipse cx="310" cy="446" rx="6.5" ry="7" fill="#fff" stroke="#000" stroke-width="1.5" transform="rotate(0 310 446)"/>
<ellipse cx="311.0" cy="446.7" rx="3.2" ry="3.5" fill="#fff" stroke="#000" stroke-width="1.1" transform="rotate(0 311.0 446.7)"/>
<path d="M304.8,443.9 L307.7,445.3" fill="none" stroke="#000" stroke-width="1.2" stroke-linejoin="round" stroke-linecap="round"/>
<ellipse cx="562" cy="600" rx="5.5" ry="5.5" fill="#fff" stroke="#000" stroke-width="1.5" transform="rotate(0 562 600)"/>
<ellipse cx="562.8" cy="600.5" rx="2.8" ry="2.8" fill="#fff" stroke="#000" stroke-width="1.1" transform="rotate(0 562.8 600.5)"/>
<path d="M557.6,598.4 L560.1,599.5" fill="none" stroke="#000" stroke-width="1.2" stroke-linejoin="round" stroke-linecap="round"/>
<g transform="rotate(-20 575.3 606.8)">
<rect x="566.3" y="598.2" width="18.0" height="17.1" rx="5.4" fill="#fff" stroke="#000" stroke-width="2.4"/>
<path d="M567.6,604.1 Q569.9,599.1 574.4,599.6 L572.1,605.0 L572.6,611.3 Q568.5,610.4 567.6,606.8 Z" fill="#000"/>
</g>
<ellipse cx="577.5" cy="608.1" rx="4.0" ry="4.7" fill="#fff" stroke="#000" stroke-width="1.5" transform="rotate(0 577.5 608.1)"/>
<ellipse cx="578.0" cy="608.6" rx="1.8" ry="2.2" fill="#fff" stroke="#000" stroke-width="1.2" transform="rotate(0 578.0 608.6)"/>
<path d="M574.4,601.4 Q578.9,600.0 582.0,604.1" fill="none" stroke="#000" stroke-width="1.3" stroke-linejoin="round" stroke-linecap="round"/>
<path d="M573.5,613.5 Q578.0,614.9 581.6,611.8" fill="none" stroke="#000" stroke-width="1.1" stroke-linejoin="round" stroke-linecap="round"/>
<ellipse cx="480" cy="645" rx="5.5" ry="5.5" fill="#fff" stroke="#000" stroke-width="1.5" transform="rotate(0 480 645)"/>
<ellipse cx="480.8" cy="645.5" rx="2.8" ry="2.8" fill="#fff" stroke="#000" stroke-width="1.1" transform="rotate(0 480.8 645.5)"/>
<path d="M475.6,643.4 L478.1,644.5" fill="none" stroke="#000" stroke-width="1.2" stroke-linejoin="round" stroke-linecap="round"/>
<g transform="rotate(-20 500 655)">
<rect x="490.5" y="646.0" width="19.0" height="18.1" rx="5.7" fill="#fff" stroke="#000" stroke-width="2.4"/>
<path d="M491.9,652.1 Q494.3,646.9 499.1,647.4 L496.7,653.1 L497.1,659.8 Q492.9,658.8 491.9,655.0 Z" fill="#000"/>
</g>
<ellipse cx="502.4" cy="656.4" rx="4.3" ry="4.9" fill="#fff" stroke="#000" stroke-width="1.5" transform="rotate(0 502.4 656.4)"/>
<ellipse cx="502.9" cy="656.9" rx="1.9" ry="2.4" fill="#fff" stroke="#000" stroke-width="1.2" transform="rotate(0 502.9 656.9)"/>
<path d="M499.1,649.3 Q503.8,647.9 507.1,652.1" fill="none" stroke="#000" stroke-width="1.3" stroke-linejoin="round" stroke-linecap="round"/>
<path d="M498.1,662.1 Q502.9,663.5 506.6,660.2" fill="none" stroke="#000" stroke-width="1.1" stroke-linejoin="round" stroke-linecap="round"/>
<ellipse cx="748.5" cy="143" rx="3.5" ry="3.5" fill="#fff" stroke="#000" stroke-width="1.5" transform="rotate(0 748.5 143)"/>
<ellipse cx="749.0" cy="143.3" rx="1.8" ry="1.8" fill="#fff" stroke="#000" stroke-width="1.1" transform="rotate(0 749.0 143.3)"/>
<path d="M745.7,141.9 L747.3,142.7" fill="none" stroke="#000" stroke-width="1.2" stroke-linejoin="round" stroke-linecap="round"/>
<ellipse cx="947.5" cy="167" rx="5" ry="3.8" fill="#111" stroke="#000" stroke-width="1.4"/><ellipse cx="946.5" cy="166.5" rx="2" ry="1.2" fill="#fff"/>
<ellipse cx="629.5" cy="434" rx="8.5" ry="5.5" fill="#fff" stroke="#000" stroke-width="1.3" transform="rotate(0 629.5 434)"/>
<ellipse cx="629.5" cy="432" rx="8.5" ry="5.5" fill="#fff" stroke="#000" stroke-width="1.3" transform="rotate(0 629.5 432)"/>
<ellipse cx="629.5" cy="432" rx="3.825" ry="2.2" fill="#fff" stroke="#000" stroke-width="1.1" transform="rotate(0 629.5 432)"/>
<ellipse cx="628" cy="464" rx="6.5" ry="4.5" fill="#fff" stroke="#000" stroke-width="1.5" transform="rotate(0 628 464)"/>
<ellipse cx="629.0" cy="464.4" rx="3.2" ry="2.2" fill="#fff" stroke="#000" stroke-width="1.1" transform="rotate(0 629.0 464.4)"/>
<path d="M622.8,462.6 L625.7,463.6" fill="none" stroke="#000" stroke-width="1.2" stroke-linejoin="round" stroke-linecap="round"/>
<ellipse cx="799" cy="474.5" rx="8.5" ry="5.5" fill="#fff" stroke="#000" stroke-width="1.3" transform="rotate(0 799 474.5)"/>
<ellipse cx="799" cy="472.5" rx="8.5" ry="5.5" fill="#fff" stroke="#000" stroke-width="1.3" transform="rotate(0 799 472.5)"/>
<ellipse cx="799" cy="472.5" rx="3.825" ry="2.2" fill="#fff" stroke="#000" stroke-width="1.1" transform="rotate(0 799 472.5)"/>
<ellipse cx="797.5" cy="499.6" rx="6.5" ry="4.5" fill="#fff" stroke="#000" stroke-width="1.5" transform="rotate(0 797.5 499.6)"/>
<ellipse cx="798.5" cy="500.1" rx="3.2" ry="2.2" fill="#fff" stroke="#000" stroke-width="1.1" transform="rotate(0 798.5 500.1)"/>
<path d="M792.3,498.2 L795.2,499.2" fill="none" stroke="#000" stroke-width="1.2" stroke-linejoin="round" stroke-linecap="round"/>
<ellipse cx="271.7" cy="695.7" rx="5" ry="4" fill="#fff" stroke="#000" stroke-width="1.5" transform="rotate(0 271.7 695.7)"/>
<ellipse cx="272.4" cy="696.1" rx="2.5" ry="2.0" fill="#fff" stroke="#000" stroke-width="1.1" transform="rotate(0 272.4 696.1)"/>
<path d="M267.7,694.5 L269.9,695.3" fill="none" stroke="#000" stroke-width="1.2" stroke-linejoin="round" stroke-linecap="round"/>
<ellipse cx="313.8" cy="705" rx="4" ry="4" fill="#fff" stroke="#000" stroke-width="1.5" transform="rotate(0 313.8 705)"/>
<ellipse cx="314.4" cy="705.4" rx="2.0" ry="2.0" fill="#fff" stroke="#000" stroke-width="1.1" transform="rotate(0 314.4 705.4)"/>
<path d="M310.6,703.8 L312.4,704.6" fill="none" stroke="#000" stroke-width="1.2" stroke-linejoin="round" stroke-linecap="round"/>
<ellipse cx="195.4" cy="708.3" rx="4" ry="4" fill="#fff" stroke="#000" stroke-width="1.5" transform="rotate(0 195.4 708.3)"/>
<ellipse cx="196.0" cy="708.7" rx="2.0" ry="2.0" fill="#fff" stroke="#000" stroke-width="1.1" transform="rotate(0 196.0 708.7)"/>
<path d="M192.2,707.1 L194.0,707.9" fill="none" stroke="#000" stroke-width="1.2" stroke-linejoin="round" stroke-linecap="round"/>
<polygon points="625.0,480.0 631.0,480.0 631.0,500.0 625.0,500.0" fill="#fff" stroke="#000" stroke-width="2.25" stroke-linejoin="round" />
<line x1="625" y1="482" x2="631" y2="483.2" stroke="#000" stroke-width="1.3" stroke-linecap="round"/>
<line x1="625" y1="484.5" x2="631" y2="485.7" stroke="#000" stroke-width="1.3" stroke-linecap="round"/>
<line x1="625" y1="487.0" x2="631" y2="488.2" stroke="#000" stroke-width="1.3" stroke-linecap="round"/>
<line x1="625" y1="489.5" x2="631" y2="490.7" stroke="#000" stroke-width="1.3" stroke-linecap="round"/>
<line x1="625" y1="492.0" x2="631" y2="493.2" stroke="#000" stroke-width="1.3" stroke-linecap="round"/>
<line x1="625" y1="494.5" x2="631" y2="495.7" stroke="#000" stroke-width="1.3" stroke-linecap="round"/>
<line x1="625" y1="497.0" x2="631" y2="498.2" stroke="#000" stroke-width="1.3" stroke-linecap="round"/>
<rect x="621.5" y="500.0" width="13.0" height="7.0" rx="2.8" fill="#fff" stroke="#000" stroke-width="2"/>
<line x1="622.5" y1="502.8" x2="633.5" y2="502.8" stroke="#000" stroke-width="1.1" stroke-linecap="round"/>
<ellipse cx="628" cy="480" rx="3" ry="1.4" fill="#fff" stroke="#000" stroke-width="1.3" transform="rotate(0 628 480)"/>
<polygon points="792.0,568.0 798.0,568.0 798.0,590.0 792.0,590.0" fill="#fff" stroke="#000" stroke-width="2.25" stroke-linejoin="round" />
<line x1="792" y1="570" x2="798" y2="571.2" stroke="#000" stroke-width="1.3" stroke-linecap="round"/>
<line x1="792" y1="572.5" x2="798" y2="573.7" stroke="#000" stroke-width="1.3" stroke-linecap="round"/>
<line x1="792" y1="575.0" x2="798" y2="576.2" stroke="#000" stroke-width="1.3" stroke-linecap="round"/>
<line x1="792" y1="577.5" x2="798" y2="578.7" stroke="#000" stroke-width="1.3" stroke-linecap="round"/>
<line x1="792" y1="580.0" x2="798" y2="581.2" stroke="#000" stroke-width="1.3" stroke-linecap="round"/>
<line x1="792" y1="582.5" x2="798" y2="583.7" stroke="#000" stroke-width="1.3" stroke-linecap="round"/>
<line x1="792" y1="585.0" x2="798" y2="586.2" stroke="#000" stroke-width="1.3" stroke-linecap="round"/>
<line x1="792" y1="587.5" x2="798" y2="588.7" stroke="#000" stroke-width="1.3" stroke-linecap="round"/>
<rect x="787.5" y="590.0" width="15.0" height="8.0" rx="3.2" fill="#fff" stroke="#000" stroke-width="2"/>
<line x1="788.5" y1="592.8" x2="801.5" y2="592.8" stroke="#000" stroke-width="1.1" stroke-linecap="round"/>
<ellipse cx="795" cy="568" rx="3" ry="1.4" fill="#fff" stroke="#000" stroke-width="1.3" transform="rotate(0 795 568)"/>
<polygon points="944.0,172.0 950.0,172.0 950.0,187.0 944.0,187.0" fill="#fff" stroke="#000" stroke-width="2.25" stroke-linejoin="round" />
<line x1="944" y1="174" x2="950" y2="175.2" stroke="#000" stroke-width="1.3" stroke-linecap="round"/>
<line x1="944" y1="176.5" x2="950" y2="177.7" stroke="#000" stroke-width="1.3" stroke-linecap="round"/>
<line x1="944" y1="179.0" x2="950" y2="180.2" stroke="#000" stroke-width="1.3" stroke-linecap="round"/>
<line x1="944" y1="181.5" x2="950" y2="182.7" stroke="#000" stroke-width="1.3" stroke-linecap="round"/>
<line x1="944" y1="184.0" x2="950" y2="185.2" stroke="#000" stroke-width="1.3" stroke-linecap="round"/>
<rect x="941.5" y="187.0" width="11.0" height="6.0" rx="2.4" fill="#fff" stroke="#000" stroke-width="2"/>
<line x1="942.5" y1="189.8" x2="951.5" y2="189.8" stroke="#000" stroke-width="1.1" stroke-linecap="round"/>
<ellipse cx="947" cy="172" rx="3" ry="1.4" fill="#fff" stroke="#000" stroke-width="1.3" transform="rotate(0 947 172)"/>
<polygon points="819.3,249.0 825.7,249.0 825.7,263.5 819.3,263.5" fill="#fff" stroke="#000" stroke-width="2.25" stroke-linejoin="round" />
<line x1="819.3" y1="251" x2="825.7" y2="252.2" stroke="#000" stroke-width="1.3" stroke-linecap="round"/>
<line x1="819.3" y1="253.5" x2="825.7" y2="254.7" stroke="#000" stroke-width="1.3" stroke-linecap="round"/>
<line x1="819.3" y1="256.0" x2="825.7" y2="257.2" stroke="#000" stroke-width="1.3" stroke-linecap="round"/>
<line x1="819.3" y1="258.5" x2="825.7" y2="259.7" stroke="#000" stroke-width="1.3" stroke-linecap="round"/>
<line x1="819.3" y1="261.0" x2="825.7" y2="262.2" stroke="#000" stroke-width="1.3" stroke-linecap="round"/>
<rect x="816.7" y="263.5" width="11.6" height="8.5" rx="3.4" fill="#fff" stroke="#000" stroke-width="2"/>
<line x1="817.7" y1="266.3" x2="827.3" y2="266.3" stroke="#000" stroke-width="1.1" stroke-linecap="round"/>
<rect x="817.0" y="241.0" width="11.0" height="8.5" rx="3.5" fill="#111" stroke="#000" stroke-width="1.5"/>
<ellipse cx="821.5" cy="245.5" rx="2.2" ry="1.2" fill="#fff" stroke="#000" stroke-width="0" transform="rotate(0 821.5 245.5)"/>
<rect x="972.5" y="249" width="9" height="8" rx="3.5" fill="#fff" stroke="#000" stroke-width="1.6"/>
<rect x="973.5" y="256" width="7" height="17" fill="#fff" stroke="#000" stroke-width="1.6"/>
<rect x="971.5" y="272" width="11" height="9.5" rx="3" fill="#fff" stroke="#000" stroke-width="1.7"/>
<line x1="976" y1="259" x2="976" y2="270" stroke="#000" stroke-width="0.9" stroke-linecap="round"/>
<line x1="972" y1="276" x2="982" y2="276" stroke="#000" stroke-width="0.9" stroke-linecap="round"/>
<polygon points="873.5,323.0 879.5,323.0 879.5,337.0 873.5,337.0" fill="#fff" stroke="#000" stroke-width="2.25" stroke-linejoin="round" />
<line x1="873.5" y1="325" x2="879.5" y2="326.2" stroke="#000" stroke-width="1.3" stroke-linecap="round"/>
<line x1="873.5" y1="327.5" x2="879.5" y2="328.7" stroke="#000" stroke-width="1.3" stroke-linecap="round"/>
<line x1="873.5" y1="330.0" x2="879.5" y2="331.2" stroke="#000" stroke-width="1.3" stroke-linecap="round"/>
<line x1="873.5" y1="332.5" x2="879.5" y2="333.7" stroke="#000" stroke-width="1.3" stroke-linecap="round"/>
<line x1="873.5" y1="335.0" x2="879.5" y2="336.2" stroke="#000" stroke-width="1.3" stroke-linecap="round"/>
<rect x="871.0" y="337.0" width="11.0" height="7.0" rx="2.8" fill="#fff" stroke="#000" stroke-width="2"/>
<line x1="872.0" y1="339.8" x2="881.0" y2="339.8" stroke="#000" stroke-width="1.1" stroke-linecap="round"/>
<rect x="871.3" y="315.0" width="10.4" height="8.5" rx="3.5" fill="#111" stroke="#000" stroke-width="1.5"/>
<ellipse cx="875.5" cy="319.5" rx="2.2" ry="1.2" fill="#fff" stroke="#000" stroke-width="0" transform="rotate(0 875.5 319.5)"/>
<polygon points="269.5,702.0 274.5,702.0 274.5,719.0 269.5,719.0" fill="#fff" stroke="#000" stroke-width="2.25" stroke-linejoin="round" />
<line x1="269.5" y1="704" x2="274.5" y2="705.2" stroke="#000" stroke-width="1.3" stroke-linecap="round"/>
<line x1="269.5" y1="706.5" x2="274.5" y2="707.7" stroke="#000" stroke-width="1.3" stroke-linecap="round"/>
<line x1="269.5" y1="709.0" x2="274.5" y2="710.2" stroke="#000" stroke-width="1.3" stroke-linecap="round"/>
<line x1="269.5" y1="711.5" x2="274.5" y2="712.7" stroke="#000" stroke-width="1.3" stroke-linecap="round"/>
<line x1="269.5" y1="714.0" x2="274.5" y2="715.2" stroke="#000" stroke-width="1.3" stroke-linecap="round"/>
<line x1="269.5" y1="716.5" x2="274.5" y2="717.7" stroke="#000" stroke-width="1.3" stroke-linecap="round"/>
<rect x="266.5" y="719.0" width="11.0" height="7.0" rx="2.8" fill="#fff" stroke="#000" stroke-width="2"/>
<line x1="267.5" y1="721.8" x2="276.5" y2="721.8" stroke="#000" stroke-width="1.1" stroke-linecap="round"/>
<ellipse cx="272" cy="702" rx="2.5" ry="1.4" fill="#fff" stroke="#000" stroke-width="1.3" transform="rotate(0 272 702)"/>
<polygon points="190.0,715.0 196.0,715.0 196.0,729.0 190.0,729.0" fill="#fff" stroke="#000" stroke-width="2.25" stroke-linejoin="round" />
<line x1="190" y1="717" x2="196" y2="718.2" stroke="#000" stroke-width="1.3" stroke-linecap="round"/>
<line x1="190" y1="719.5" x2="196" y2="720.7" stroke="#000" stroke-width="1.3" stroke-linecap="round"/>
<line x1="190" y1="722.0" x2="196" y2="723.2" stroke="#000" stroke-width="1.3" stroke-linecap="round"/>
<line x1="190" y1="724.5" x2="196" y2="725.7" stroke="#000" stroke-width="1.3" stroke-linecap="round"/>
<line x1="190" y1="727.0" x2="196" y2="728.2" stroke="#000" stroke-width="1.3" stroke-linecap="round"/>
<rect x="186.5" y="729.0" width="13.0" height="9.0" rx="3.6" fill="#fff" stroke="#000" stroke-width="2"/>
<line x1="187.5" y1="731.8" x2="198.5" y2="731.8" stroke="#000" stroke-width="1.1" stroke-linecap="round"/>
<ellipse cx="193" cy="715" rx="3" ry="1.4" fill="#fff" stroke="#000" stroke-width="1.3" transform="rotate(0 193 715)"/>
<polygon points="729.1,134.1 740.5,140.6 743.5,135.4 732.1,128.9" fill="#fff" stroke="#000" stroke-width="1.2" stroke-linejoin="round" />
<line x1="731.7" y1="135.6" x2="733.8" y2="129.9" stroke="#000" stroke-width="1.0" stroke-linecap="round"/>
<line x1="733.8" y1="136.8" x2="735.9" y2="131.1" stroke="#000" stroke-width="1.0" stroke-linecap="round"/>
<line x1="735.9" y1="138.0" x2="738.0" y2="132.3" stroke="#000" stroke-width="1.0" stroke-linecap="round"/>
<line x1="738.0" y1="139.2" x2="740.1" y2="133.4" stroke="#000" stroke-width="1.0" stroke-linecap="round"/>
<line x1="740.1" y1="140.3" x2="742.2" y2="134.6" stroke="#000" stroke-width="1.0" stroke-linecap="round"/>
<ellipse cx="728" cy="130" rx="4.800000000000001" ry="5.699999999999999" fill="#fff" stroke="#000" stroke-width="2.0" transform="rotate(29.74488129694222 728 130)"/>
<ellipse cx="728" cy="130" rx="2.4000000000000004" ry="3.0" fill="none" stroke="#000" stroke-width="1.0" transform="rotate(29.74488129694222 728 130)"/>
<polygon points="336.5,716.0 326.3,711.3 323.7,716.7 334.0,721.5" fill="#fff" stroke="#000" stroke-width="1.2" stroke-linejoin="round" />
<line x1="333.8" y1="714.8" x2="332.2" y2="720.6" stroke="#000" stroke-width="1.0" stroke-linecap="round"/>
<line x1="331.6" y1="713.8" x2="330.0" y2="719.6" stroke="#000" stroke-width="1.0" stroke-linecap="round"/>
<line x1="329.5" y1="712.8" x2="327.8" y2="718.6" stroke="#000" stroke-width="1.0" stroke-linecap="round"/>
<line x1="327.3" y1="711.7" x2="325.7" y2="717.6" stroke="#000" stroke-width="1.0" stroke-linecap="round"/>
<ellipse cx="338" cy="720" rx="4.800000000000001" ry="5.699999999999999" fill="#fff" stroke="#000" stroke-width="2.0" transform="rotate(-155.22485943116808 338 720)"/>
<ellipse cx="338" cy="720" rx="2.4000000000000004" ry="3.0" fill="none" stroke="#000" stroke-width="1.0" transform="rotate(-155.22485943116808 338 720)"/>
</svg></body></html>
